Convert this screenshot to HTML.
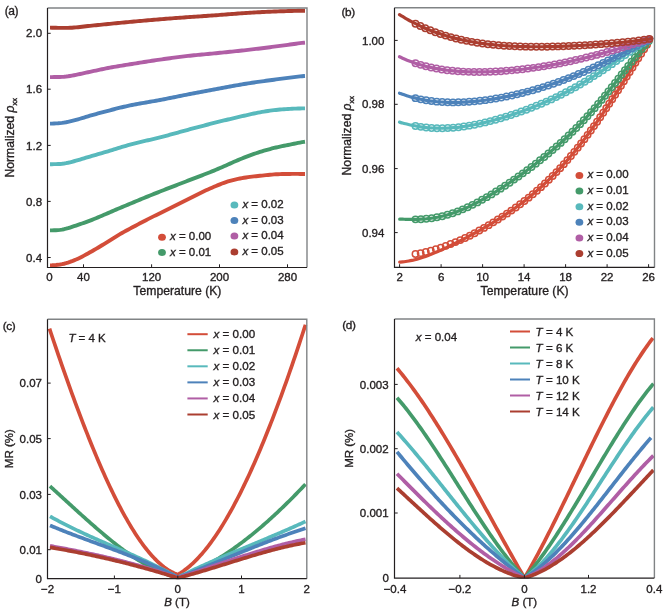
<!DOCTYPE html>
<html><head><meta charset="utf-8"><title>Figure</title>
<style>html,body{margin:0;padding:0;background:#fff;width:666px;height:611px;overflow:hidden}svg{display:block}text{stroke:#231f20;stroke-width:.35px}</style>
</head><body>
<svg width="666" height="611" viewBox="0 0 666 611" font-family='"Liberation Sans", Arial, sans-serif' fill="#231f20">
<rect width="666" height="611" fill="#fff"/>
<text x="4.80" y="15.40" font-size="12.00" text-anchor="start" letter-spacing="-0.5">(a)</text>
<text x="42.10" y="261.60" font-size="11.50" text-anchor="end">0.4</text>
<text x="42.10" y="205.50" font-size="11.50" text-anchor="end">0.8</text>
<text x="42.10" y="149.50" font-size="11.50" text-anchor="end">1.2</text>
<text x="42.10" y="93.30" font-size="11.50" text-anchor="end">1.6</text>
<text x="42.10" y="37.40" font-size="11.50" text-anchor="end">2.0</text>
<text x="49.50" y="281.30" font-size="11.50" text-anchor="middle">0</text>
<text x="83.50" y="281.30" font-size="11.50" text-anchor="middle">40</text>
<text x="151.60" y="281.30" font-size="11.50" text-anchor="middle">120</text>
<text x="219.50" y="281.30" font-size="11.50" text-anchor="middle">200</text>
<text x="287.50" y="281.30" font-size="11.50" text-anchor="middle">280</text>
<text x="177.40" y="295.30" font-size="12.20" text-anchor="middle">Temperature (K)</text>
<text transform="translate(14.4,137.8) rotate(-90)" font-size="12.20" text-anchor="middle">Normalized <tspan font-style="italic">ρ</tspan><tspan font-size="7.5" dy="2.5">xx</tspan></text>
<path d="M50.00,265.33 L52.00,265.27 L54.00,265.16 L56.00,265.01 L58.00,264.81 L60.00,264.53 L62.00,264.18 L64.00,263.74 L66.00,263.22 L68.00,262.60 L70.00,261.92 L72.00,261.19 L74.00,260.40 L76.00,259.56 L78.00,258.65 L80.00,257.69 L82.00,256.68 L84.00,255.63 L86.00,254.54 L88.00,253.44 L90.00,252.32 L92.00,251.19 L94.00,250.04 L96.00,248.88 L98.00,247.70 L100.00,246.50 L102.00,245.29 L104.00,244.06 L106.00,242.82 L108.00,241.57 L110.00,240.31 L112.00,239.05 L114.00,237.80 L116.00,236.57 L118.00,235.37 L120.00,234.19 L122.00,233.04 L124.00,231.91 L126.00,230.80 L128.00,229.71 L130.00,228.62 L132.00,227.55 L134.00,226.48 L136.00,225.41 L138.00,224.35 L140.00,223.29 L142.00,222.24 L144.00,221.20 L146.00,220.17 L148.00,219.14 L150.00,218.13 L152.00,217.12 L154.00,216.12 L156.00,215.13 L158.00,214.15 L160.00,213.17 L162.00,212.20 L164.00,211.23 L166.00,210.25 L168.00,209.27 L170.00,208.29 L172.00,207.30 L174.00,206.30 L176.00,205.30 L178.00,204.30 L180.00,203.30 L182.00,202.30 L184.00,201.30 L186.00,200.29 L188.00,199.29 L190.00,198.29 L192.00,197.28 L194.00,196.27 L196.00,195.26 L198.00,194.25 L200.00,193.25 L202.00,192.27 L204.00,191.30 L206.00,190.35 L208.00,189.44 L210.00,188.54 L212.00,187.66 L214.00,186.80 L216.00,185.96 L218.00,185.13 L220.00,184.33 L222.00,183.55 L224.00,182.82 L226.00,182.12 L228.00,181.47 L230.00,180.87 L232.00,180.32 L234.00,179.81 L236.00,179.34 L238.00,178.90 L240.00,178.49 L242.00,178.12 L244.00,177.77 L246.00,177.46 L248.00,177.17 L250.00,176.91 L252.00,176.66 L254.00,176.43 L256.00,176.22 L258.00,176.01 L260.00,175.80 L262.00,175.59 L264.00,175.37 L266.00,175.16 L268.00,174.95 L270.00,174.76 L272.00,174.58 L274.00,174.43 L276.00,174.31 L278.00,174.21 L280.00,174.13 L282.00,174.07 L284.00,174.02 L286.00,173.98 L288.00,173.95 L290.00,173.93 L292.00,173.92 L294.00,173.91 L296.00,173.92 L298.00,173.92 L300.00,173.94 L302.00,173.95 L304.00,173.97 L305.00,173.98" fill="none" stroke="#d34d39" stroke-width="3.9" stroke-linejoin="round"/>
<path d="M50.00,230.37 L52.00,230.34 L54.00,230.29 L56.00,230.21 L58.00,230.09 L60.00,229.89 L62.00,229.61 L64.00,229.22 L66.00,228.73 L68.00,228.15 L70.00,227.52 L72.00,226.86 L74.00,226.19 L76.00,225.53 L78.00,224.86 L80.00,224.18 L82.00,223.50 L84.00,222.79 L86.00,222.07 L88.00,221.34 L90.00,220.58 L92.00,219.81 L94.00,219.01 L96.00,218.20 L98.00,217.38 L100.00,216.54 L102.00,215.69 L104.00,214.83 L106.00,213.97 L108.00,213.10 L110.00,212.23 L112.00,211.37 L114.00,210.51 L116.00,209.66 L118.00,208.81 L120.00,207.97 L122.00,207.12 L124.00,206.28 L126.00,205.44 L128.00,204.60 L130.00,203.77 L132.00,202.93 L134.00,202.09 L136.00,201.26 L138.00,200.43 L140.00,199.60 L142.00,198.77 L144.00,197.95 L146.00,197.13 L148.00,196.32 L150.00,195.51 L152.00,194.71 L154.00,193.91 L156.00,193.11 L158.00,192.32 L160.00,191.54 L162.00,190.75 L164.00,189.97 L166.00,189.19 L168.00,188.42 L170.00,187.64 L172.00,186.87 L174.00,186.10 L176.00,185.33 L178.00,184.55 L180.00,183.78 L182.00,183.01 L184.00,182.24 L186.00,181.46 L188.00,180.69 L190.00,179.92 L192.00,179.15 L194.00,178.38 L196.00,177.61 L198.00,176.84 L200.00,176.08 L202.00,175.31 L204.00,174.54 L206.00,173.76 L208.00,172.98 L210.00,172.19 L212.00,171.39 L214.00,170.58 L216.00,169.75 L218.00,168.91 L220.00,168.05 L222.00,167.18 L224.00,166.30 L226.00,165.41 L228.00,164.51 L230.00,163.61 L232.00,162.72 L234.00,161.83 L236.00,160.96 L238.00,160.09 L240.00,159.25 L242.00,158.43 L244.00,157.62 L246.00,156.85 L248.00,156.09 L250.00,155.35 L252.00,154.64 L254.00,153.94 L256.00,153.26 L258.00,152.60 L260.00,151.96 L262.00,151.33 L264.00,150.73 L266.00,150.14 L268.00,149.57 L270.00,149.02 L272.00,148.48 L274.00,147.97 L276.00,147.49 L278.00,147.03 L280.00,146.59 L282.00,146.17 L284.00,145.76 L286.00,145.37 L288.00,144.98 L290.00,144.58 L292.00,144.18 L294.00,143.77 L296.00,143.36 L298.00,142.94 L300.00,142.54 L302.00,142.17 L304.00,141.87 L305.00,141.75" fill="none" stroke="#449a6a" stroke-width="3.9" stroke-linejoin="round"/>
<path d="M50.00,164.19 L52.00,164.18 L54.00,164.16 L56.00,164.13 L58.00,164.06 L60.00,163.95 L62.00,163.77 L64.00,163.51 L66.00,163.16 L68.00,162.75 L70.00,162.28 L72.00,161.77 L74.00,161.25 L76.00,160.70 L78.00,160.14 L80.00,159.56 L82.00,158.96 L84.00,158.35 L86.00,157.74 L88.00,157.13 L90.00,156.53 L92.00,155.93 L94.00,155.35 L96.00,154.76 L98.00,154.18 L100.00,153.61 L102.00,153.03 L104.00,152.45 L106.00,151.86 L108.00,151.27 L110.00,150.68 L112.00,150.08 L114.00,149.47 L116.00,148.85 L118.00,148.23 L120.00,147.60 L122.00,146.98 L124.00,146.37 L126.00,145.78 L128.00,145.20 L130.00,144.64 L132.00,144.11 L134.00,143.59 L136.00,143.08 L138.00,142.59 L140.00,142.11 L142.00,141.64 L144.00,141.18 L146.00,140.71 L148.00,140.25 L150.00,139.79 L152.00,139.32 L154.00,138.85 L156.00,138.37 L158.00,137.88 L160.00,137.38 L162.00,136.86 L164.00,136.34 L166.00,135.81 L168.00,135.27 L170.00,134.73 L172.00,134.18 L174.00,133.63 L176.00,133.07 L178.00,132.52 L180.00,131.96 L182.00,131.41 L184.00,130.86 L186.00,130.32 L188.00,129.78 L190.00,129.24 L192.00,128.70 L194.00,128.17 L196.00,127.64 L198.00,127.11 L200.00,126.58 L202.00,126.05 L204.00,125.53 L206.00,125.01 L208.00,124.49 L210.00,123.97 L212.00,123.46 L214.00,122.96 L216.00,122.46 L218.00,121.96 L220.00,121.46 L222.00,120.97 L224.00,120.48 L226.00,119.99 L228.00,119.51 L230.00,119.02 L232.00,118.55 L234.00,118.07 L236.00,117.60 L238.00,117.13 L240.00,116.67 L242.00,116.21 L244.00,115.75 L246.00,115.30 L248.00,114.85 L250.00,114.40 L252.00,113.95 L254.00,113.52 L256.00,113.09 L258.00,112.69 L260.00,112.30 L262.00,111.94 L264.00,111.60 L266.00,111.27 L268.00,110.97 L270.00,110.68 L272.00,110.41 L274.00,110.17 L276.00,109.95 L278.00,109.75 L280.00,109.56 L282.00,109.40 L284.00,109.25 L286.00,109.11 L288.00,108.98 L290.00,108.87 L292.00,108.77 L294.00,108.67 L296.00,108.59 L298.00,108.51 L300.00,108.45 L302.00,108.40 L304.00,108.36 L305.00,108.34" fill="none" stroke="#58b9bc" stroke-width="3.9" stroke-linejoin="round"/>
<path d="M50.00,123.65 L52.00,123.61 L54.00,123.53 L56.00,123.42 L58.00,123.28 L60.00,123.09 L62.00,122.86 L64.00,122.56 L66.00,122.22 L68.00,121.82 L70.00,121.38 L72.00,120.90 L74.00,120.41 L76.00,119.88 L78.00,119.33 L80.00,118.75 L82.00,118.16 L84.00,117.55 L86.00,116.93 L88.00,116.33 L90.00,115.74 L92.00,115.16 L94.00,114.59 L96.00,114.03 L98.00,113.48 L100.00,112.93 L102.00,112.38 L104.00,111.85 L106.00,111.31 L108.00,110.79 L110.00,110.27 L112.00,109.75 L114.00,109.24 L116.00,108.73 L118.00,108.23 L120.00,107.73 L122.00,107.24 L124.00,106.77 L126.00,106.31 L128.00,105.86 L130.00,105.44 L132.00,105.02 L134.00,104.63 L136.00,104.24 L138.00,103.87 L140.00,103.51 L142.00,103.15 L144.00,102.81 L146.00,102.46 L148.00,102.12 L150.00,101.77 L152.00,101.43 L154.00,101.08 L156.00,100.72 L158.00,100.35 L160.00,99.98 L162.00,99.60 L164.00,99.22 L166.00,98.82 L168.00,98.43 L170.00,98.03 L172.00,97.62 L174.00,97.22 L176.00,96.81 L178.00,96.40 L180.00,96.00 L182.00,95.59 L184.00,95.19 L186.00,94.80 L188.00,94.40 L190.00,94.01 L192.00,93.63 L194.00,93.24 L196.00,92.86 L198.00,92.48 L200.00,92.10 L202.00,91.72 L204.00,91.35 L206.00,90.97 L208.00,90.60 L210.00,90.23 L212.00,89.86 L214.00,89.48 L216.00,89.11 L218.00,88.74 L220.00,88.37 L222.00,87.99 L224.00,87.62 L226.00,87.24 L228.00,86.87 L230.00,86.50 L232.00,86.13 L234.00,85.77 L236.00,85.41 L238.00,85.06 L240.00,84.71 L242.00,84.37 L244.00,84.04 L246.00,83.72 L248.00,83.40 L250.00,83.09 L252.00,82.78 L254.00,82.49 L256.00,82.19 L258.00,81.90 L260.00,81.62 L262.00,81.34 L264.00,81.06 L266.00,80.78 L268.00,80.51 L270.00,80.24 L272.00,79.97 L274.00,79.70 L276.00,79.44 L278.00,79.17 L280.00,78.91 L282.00,78.65 L284.00,78.39 L286.00,78.13 L288.00,77.88 L290.00,77.62 L292.00,77.37 L294.00,77.13 L296.00,76.88 L298.00,76.65 L300.00,76.42 L302.00,76.22 L304.00,76.05 L305.00,75.99" fill="none" stroke="#4d82ba" stroke-width="3.9" stroke-linejoin="round"/>
<path d="M50.00,77.09 L52.00,77.08 L54.00,77.07 L56.00,77.05 L58.00,77.01 L60.00,76.96 L62.00,76.87 L64.00,76.73 L66.00,76.54 L68.00,76.30 L70.00,76.00 L72.00,75.66 L74.00,75.28 L76.00,74.86 L78.00,74.43 L80.00,73.98 L82.00,73.53 L84.00,73.09 L86.00,72.65 L88.00,72.22 L90.00,71.80 L92.00,71.38 L94.00,70.96 L96.00,70.54 L98.00,70.11 L100.00,69.67 L102.00,69.25 L104.00,68.82 L106.00,68.41 L108.00,68.01 L110.00,67.62 L112.00,67.25 L114.00,66.89 L116.00,66.55 L118.00,66.21 L120.00,65.89 L122.00,65.57 L124.00,65.25 L126.00,64.93 L128.00,64.61 L130.00,64.30 L132.00,63.98 L134.00,63.65 L136.00,63.33 L138.00,63.01 L140.00,62.69 L142.00,62.37 L144.00,62.05 L146.00,61.73 L148.00,61.42 L150.00,61.10 L152.00,60.80 L154.00,60.49 L156.00,60.19 L158.00,59.90 L160.00,59.61 L162.00,59.32 L164.00,59.04 L166.00,58.75 L168.00,58.48 L170.00,58.20 L172.00,57.93 L174.00,57.66 L176.00,57.39 L178.00,57.14 L180.00,56.88 L182.00,56.63 L184.00,56.39 L186.00,56.16 L188.00,55.93 L190.00,55.71 L192.00,55.49 L194.00,55.29 L196.00,55.09 L198.00,54.89 L200.00,54.70 L202.00,54.52 L204.00,54.33 L206.00,54.15 L208.00,53.96 L210.00,53.77 L212.00,53.58 L214.00,53.39 L216.00,53.20 L218.00,53.00 L220.00,52.80 L222.00,52.60 L224.00,52.40 L226.00,52.20 L228.00,52.00 L230.00,51.80 L232.00,51.59 L234.00,51.39 L236.00,51.18 L238.00,50.97 L240.00,50.75 L242.00,50.54 L244.00,50.32 L246.00,50.09 L248.00,49.87 L250.00,49.64 L252.00,49.41 L254.00,49.17 L256.00,48.93 L258.00,48.69 L260.00,48.45 L262.00,48.21 L264.00,47.96 L266.00,47.71 L268.00,47.45 L270.00,47.20 L272.00,46.94 L274.00,46.69 L276.00,46.43 L278.00,46.16 L280.00,45.90 L282.00,45.63 L284.00,45.36 L286.00,45.09 L288.00,44.82 L290.00,44.54 L292.00,44.26 L294.00,43.98 L296.00,43.70 L298.00,43.42 L300.00,43.15 L302.00,42.91 L304.00,42.71 L305.00,42.63" fill="none" stroke="#b05ea5" stroke-width="3.9" stroke-linejoin="round"/>
<path d="M50.00,27.66 L52.00,27.70 L54.00,27.74 L56.00,27.79 L58.00,27.83 L60.00,27.85 L62.00,27.87 L64.00,27.88 L66.00,27.87 L68.00,27.84 L70.00,27.78 L72.00,27.68 L74.00,27.55 L76.00,27.38 L78.00,27.19 L80.00,26.97 L82.00,26.74 L84.00,26.50 L86.00,26.27 L88.00,26.04 L90.00,25.82 L92.00,25.61 L94.00,25.41 L96.00,25.21 L98.00,25.02 L100.00,24.82 L102.00,24.62 L104.00,24.42 L106.00,24.22 L108.00,24.02 L110.00,23.82 L112.00,23.62 L114.00,23.43 L116.00,23.23 L118.00,23.04 L120.00,22.84 L122.00,22.65 L124.00,22.46 L126.00,22.27 L128.00,22.09 L130.00,21.90 L132.00,21.72 L134.00,21.54 L136.00,21.36 L138.00,21.18 L140.00,21.01 L142.00,20.83 L144.00,20.65 L146.00,20.48 L148.00,20.31 L150.00,20.14 L152.00,19.96 L154.00,19.80 L156.00,19.63 L158.00,19.46 L160.00,19.30 L162.00,19.13 L164.00,18.97 L166.00,18.81 L168.00,18.65 L170.00,18.49 L172.00,18.33 L174.00,18.18 L176.00,18.03 L178.00,17.88 L180.00,17.73 L182.00,17.59 L184.00,17.44 L186.00,17.30 L188.00,17.16 L190.00,17.02 L192.00,16.88 L194.00,16.75 L196.00,16.61 L198.00,16.48 L200.00,16.34 L202.00,16.20 L204.00,16.07 L206.00,15.93 L208.00,15.79 L210.00,15.65 L212.00,15.51 L214.00,15.37 L216.00,15.22 L218.00,15.07 L220.00,14.92 L222.00,14.77 L224.00,14.61 L226.00,14.46 L228.00,14.30 L230.00,14.15 L232.00,13.99 L234.00,13.84 L236.00,13.69 L238.00,13.55 L240.00,13.40 L242.00,13.27 L244.00,13.14 L246.00,13.01 L248.00,12.88 L250.00,12.76 L252.00,12.64 L254.00,12.52 L256.00,12.41 L258.00,12.29 L260.00,12.18 L262.00,12.07 L264.00,11.97 L266.00,11.87 L268.00,11.78 L270.00,11.68 L272.00,11.60 L274.00,11.52 L276.00,11.44 L278.00,11.37 L280.00,11.31 L282.00,11.24 L284.00,11.18 L286.00,11.12 L288.00,11.06 L290.00,11.01 L292.00,10.96 L294.00,10.91 L296.00,10.86 L298.00,10.82 L300.00,10.79 L302.00,10.76 L304.00,10.73 L305.00,10.72" fill="none" stroke="#ab3e30" stroke-width="3.9" stroke-linejoin="round"/>
<ellipse cx="162.00" cy="237.20" rx="3.9" ry="3.5" fill="#d34d39"/>
<text x="170.00" y="240.20" font-size="11.50"><tspan font-style="italic">x</tspan> = 0.00</text>
<ellipse cx="162.00" cy="252.50" rx="3.9" ry="3.5" fill="#449a6a"/>
<text x="170.00" y="255.50" font-size="11.50"><tspan font-style="italic">x</tspan> = 0.01</text>
<ellipse cx="234.40" cy="204.90" rx="3.9" ry="3.5" fill="#58b9bc"/>
<text x="242.40" y="207.90" font-size="11.50"><tspan font-style="italic">x</tspan> = 0.02</text>
<ellipse cx="234.40" cy="220.60" rx="3.9" ry="3.5" fill="#4d82ba"/>
<text x="242.40" y="223.60" font-size="11.50"><tspan font-style="italic">x</tspan> = 0.03</text>
<ellipse cx="234.40" cy="236.10" rx="3.9" ry="3.5" fill="#b05ea5"/>
<text x="242.40" y="239.10" font-size="11.50"><tspan font-style="italic">x</tspan> = 0.04</text>
<ellipse cx="234.40" cy="251.90" rx="3.9" ry="3.5" fill="#ab3e30"/>
<text x="242.40" y="254.90" font-size="11.50"><tspan font-style="italic">x</tspan> = 0.05</text>
<line x1="47.50" y1="257.50" x2="50.70" y2="257.50" stroke="#231f20" stroke-width="1"/>
<line x1="47.50" y1="201.40" x2="50.70" y2="201.40" stroke="#231f20" stroke-width="1"/>
<line x1="47.50" y1="145.40" x2="50.70" y2="145.40" stroke="#231f20" stroke-width="1"/>
<line x1="47.50" y1="89.20" x2="50.70" y2="89.20" stroke="#231f20" stroke-width="1"/>
<line x1="47.50" y1="33.30" x2="50.70" y2="33.30" stroke="#231f20" stroke-width="1"/>
<line x1="83.50" y1="267.50" x2="83.50" y2="264.30" stroke="#231f20" stroke-width="1"/>
<line x1="151.60" y1="267.50" x2="151.60" y2="264.30" stroke="#231f20" stroke-width="1"/>
<line x1="219.50" y1="267.50" x2="219.50" y2="264.30" stroke="#231f20" stroke-width="1"/>
<line x1="287.50" y1="267.50" x2="287.50" y2="264.30" stroke="#231f20" stroke-width="1"/>
<path d="M47.50,8.00 H307.00 V267.50" fill="none" stroke="#808385" stroke-width="1.4"/>
<path d="M47.50,8.00 V267.50 H307.00" fill="none" stroke="#231f20" stroke-width="1.2"/>
<text x="341.60" y="15.80" font-size="11.80" text-anchor="start" letter-spacing="-0.4">(b)</text>
<text x="384.40" y="44.50" font-size="11.50" text-anchor="end">1.00</text>
<text x="384.40" y="108.40" font-size="11.50" text-anchor="end">0.98</text>
<text x="384.40" y="172.70" font-size="11.50" text-anchor="end">0.96</text>
<text x="384.40" y="236.70" font-size="11.50" text-anchor="end">0.94</text>
<text x="399.60" y="281.30" font-size="11.50" text-anchor="middle">2</text>
<text x="441.10" y="281.30" font-size="11.50" text-anchor="middle">6</text>
<text x="482.60" y="281.30" font-size="11.50" text-anchor="middle">10</text>
<text x="524.10" y="281.30" font-size="11.50" text-anchor="middle">14</text>
<text x="565.60" y="281.30" font-size="11.50" text-anchor="middle">18</text>
<text x="607.10" y="281.30" font-size="11.50" text-anchor="middle">22</text>
<text x="648.60" y="281.30" font-size="11.50" text-anchor="middle">26</text>
<text x="524.60" y="295.30" font-size="12.20" text-anchor="middle">Temperature (K)</text>
<text transform="translate(351.4,135.7) rotate(-90)" font-size="12.20" text-anchor="middle">Normalized <tspan font-style="italic">ρ</tspan><tspan font-size="7.5" dy="2.5">xx</tspan></text>
<path d="M399.70,262.15 C400.20,262.11 401.71,262.02 402.71,261.92 C403.71,261.82 404.72,261.69 405.72,261.54 C406.72,261.40 407.73,261.23 408.73,261.04 C409.73,260.85 410.74,260.65 411.74,260.42 C412.74,260.20 413.74,259.95 414.75,259.69 C415.75,259.44 416.75,259.16 417.76,258.87 C418.76,258.58 419.76,258.28 420.77,257.96 C421.77,257.64 422.77,257.31 423.78,256.97 C424.78,256.62 425.78,256.27 426.79,255.90 C427.79,255.54 428.79,255.16 429.80,254.77 C430.80,254.39 431.80,253.99 432.81,253.58 C433.81,253.18 434.81,252.76 435.81,252.34 C436.82,251.92 437.82,251.49 438.82,251.05 C439.83,250.62 440.83,250.17 441.83,249.72 C442.84,249.27 443.84,248.81 444.84,248.35 C445.85,247.89 446.85,247.42 447.85,246.94 C448.86,246.47 449.86,245.99 450.86,245.50 C451.87,245.02 452.87,244.53 453.87,244.03 C454.88,243.54 455.88,243.04 456.88,242.53 C457.88,242.03 458.89,241.52 459.89,241.01 C460.89,240.49 461.90,239.98 462.90,239.46 C463.90,238.93 464.91,238.41 465.91,237.88 C466.91,237.35 467.92,236.82 468.92,236.28 C469.92,235.74 470.93,235.20 471.93,234.65 C472.93,234.11 473.94,233.56 474.94,233.01 C475.94,232.45 476.95,231.89 477.95,231.33 C478.95,230.77 479.95,230.20 480.96,229.63 C481.96,229.06 482.96,228.48 483.97,227.90 C484.97,227.32 485.97,226.73 486.98,226.14 C487.98,225.55 488.98,224.96 489.99,224.36 C490.99,223.75 491.99,223.15 493.00,222.54 C494.00,221.92 495.00,221.31 496.01,220.68 C497.01,220.06 498.01,219.43 499.02,218.79 C500.02,218.15 501.02,217.51 502.03,216.86 C503.03,216.21 504.03,215.55 505.03,214.89 C506.04,214.22 507.04,213.55 508.04,212.87 C509.05,212.19 510.05,211.50 511.05,210.81 C512.06,210.11 513.06,209.41 514.06,208.69 C515.07,207.98 516.07,207.26 517.07,206.53 C518.08,205.79 519.08,205.05 520.08,204.30 C521.09,203.55 522.09,202.80 523.09,202.03 C524.10,201.26 525.10,200.48 526.10,199.68 C527.10,198.89 528.11,198.09 529.11,197.28 C530.11,196.47 531.12,195.64 532.12,194.81 C533.12,193.97 534.13,193.13 535.13,192.27 C536.13,191.41 537.14,190.54 538.14,189.66 C539.14,188.77 540.15,187.88 541.15,186.97 C542.15,186.06 543.16,185.14 544.16,184.20 C545.16,183.27 546.17,182.32 547.17,181.36 C548.17,180.40 549.17,179.43 550.18,178.44 C551.18,177.45 552.18,176.45 553.19,175.43 C554.19,174.41 555.19,173.38 556.20,172.34 C557.20,171.30 558.20,170.24 559.21,169.16 C560.21,168.09 561.21,167.00 562.22,165.90 C563.22,164.80 564.22,163.68 565.23,162.55 C566.23,161.41 567.23,160.27 568.24,159.11 C569.24,157.94 570.24,156.77 571.25,155.58 C572.25,154.39 573.25,153.18 574.25,151.96 C575.26,150.74 576.26,149.50 577.26,148.25 C578.27,147.00 579.27,145.73 580.27,144.45 C581.28,143.17 582.28,141.88 583.28,140.57 C584.29,139.26 585.29,137.94 586.29,136.60 C587.30,135.27 588.30,133.92 589.30,132.55 C590.31,131.19 591.31,129.81 592.31,128.42 C593.32,127.03 594.32,125.62 595.32,124.20 C596.32,122.79 597.33,121.36 598.33,119.91 C599.33,118.47 600.34,117.02 601.34,115.55 C602.34,114.09 603.35,112.61 604.35,111.12 C605.35,109.64 606.36,108.14 607.36,106.63 C608.36,105.12 609.37,103.61 610.37,102.08 C611.37,100.55 612.38,99.02 613.38,97.47 C614.38,95.93 615.39,94.38 616.39,92.82 C617.39,91.27 618.39,89.70 619.40,88.13 C620.40,86.56 621.40,84.99 622.41,83.41 C623.41,81.83 624.41,80.24 625.42,78.66 C626.42,77.07 627.42,75.48 628.43,73.89 C629.43,72.30 630.43,70.71 631.44,69.12 C632.44,67.53 633.44,65.94 634.45,64.35 C635.45,62.77 636.45,61.18 637.46,59.60 C638.46,58.02 639.46,56.44 640.46,54.87 C641.47,53.30 642.47,51.73 643.47,50.17 C644.48,48.62 645.48,47.07 646.48,45.53 C647.49,43.99 648.66,42.21 649.49,40.95 C650.33,39.68 651.17,38.44 651.50,37.93" fill="none" stroke="#d34d39" stroke-width="3.20" stroke-linecap="round" stroke-linejoin="round"/>
<circle cx="415.50" cy="254.00" r="3.20" fill="none" stroke="#d34d39" stroke-width="1.50"/>
<circle cx="420.68" cy="253.11" r="3.20" fill="none" stroke="#d34d39" stroke-width="1.50"/>
<circle cx="425.80" cy="251.98" r="3.20" fill="none" stroke="#d34d39" stroke-width="1.50"/>
<circle cx="430.85" cy="250.66" r="3.20" fill="none" stroke="#d34d39" stroke-width="1.50"/>
<circle cx="435.86" cy="249.19" r="3.20" fill="none" stroke="#d34d39" stroke-width="1.50"/>
<circle cx="440.81" cy="247.58" r="3.20" fill="none" stroke="#d34d39" stroke-width="1.50"/>
<circle cx="445.73" cy="245.86" r="3.20" fill="none" stroke="#d34d39" stroke-width="1.50"/>
<circle cx="450.60" cy="244.03" r="3.20" fill="none" stroke="#d34d39" stroke-width="1.50"/>
<circle cx="455.45" cy="242.12" r="3.20" fill="none" stroke="#d34d39" stroke-width="1.50"/>
<circle cx="460.27" cy="240.12" r="3.20" fill="none" stroke="#d34d39" stroke-width="1.50"/>
<circle cx="465.07" cy="238.02" r="3.20" fill="none" stroke="#d34d39" stroke-width="1.50"/>
<circle cx="469.83" cy="235.78" r="3.20" fill="none" stroke="#d34d39" stroke-width="1.50"/>
<circle cx="474.57" cy="233.21" r="3.20" fill="none" stroke="#d34d39" stroke-width="1.50"/>
<circle cx="479.29" cy="230.57" r="3.20" fill="none" stroke="#d34d39" stroke-width="1.50"/>
<circle cx="483.98" cy="227.89" r="3.20" fill="none" stroke="#d34d39" stroke-width="1.50"/>
<circle cx="488.64" cy="225.16" r="3.20" fill="none" stroke="#d34d39" stroke-width="1.50"/>
<circle cx="493.26" cy="222.37" r="3.20" fill="none" stroke="#d34d39" stroke-width="1.50"/>
<circle cx="497.85" cy="219.53" r="3.20" fill="none" stroke="#d34d39" stroke-width="1.50"/>
<circle cx="502.40" cy="216.62" r="3.20" fill="none" stroke="#d34d39" stroke-width="1.50"/>
<circle cx="506.90" cy="213.64" r="3.20" fill="none" stroke="#d34d39" stroke-width="1.50"/>
<circle cx="511.36" cy="210.59" r="3.20" fill="none" stroke="#d34d39" stroke-width="1.50"/>
<circle cx="515.77" cy="207.47" r="3.20" fill="none" stroke="#d34d39" stroke-width="1.50"/>
<circle cx="520.12" cy="204.28" r="3.20" fill="none" stroke="#d34d39" stroke-width="1.50"/>
<circle cx="524.42" cy="201.00" r="3.20" fill="none" stroke="#d34d39" stroke-width="1.50"/>
<circle cx="528.65" cy="197.65" r="3.20" fill="none" stroke="#d34d39" stroke-width="1.50"/>
<circle cx="532.82" cy="194.22" r="3.20" fill="none" stroke="#d34d39" stroke-width="1.50"/>
<circle cx="536.93" cy="190.72" r="3.20" fill="none" stroke="#d34d39" stroke-width="1.50"/>
<circle cx="540.97" cy="187.13" r="3.20" fill="none" stroke="#d34d39" stroke-width="1.50"/>
<circle cx="544.94" cy="183.47" r="3.20" fill="none" stroke="#d34d39" stroke-width="1.50"/>
<circle cx="548.84" cy="179.74" r="3.20" fill="none" stroke="#d34d39" stroke-width="1.50"/>
<circle cx="552.68" cy="175.94" r="3.20" fill="none" stroke="#d34d39" stroke-width="1.50"/>
<circle cx="556.45" cy="172.08" r="3.20" fill="none" stroke="#d34d39" stroke-width="1.50"/>
<circle cx="560.15" cy="168.15" r="3.20" fill="none" stroke="#d34d39" stroke-width="1.50"/>
<circle cx="563.79" cy="164.16" r="3.20" fill="none" stroke="#d34d39" stroke-width="1.50"/>
<circle cx="567.37" cy="160.11" r="3.20" fill="none" stroke="#d34d39" stroke-width="1.50"/>
<circle cx="570.88" cy="156.01" r="3.20" fill="none" stroke="#d34d39" stroke-width="1.50"/>
<circle cx="574.33" cy="151.86" r="3.20" fill="none" stroke="#d34d39" stroke-width="1.50"/>
<circle cx="577.73" cy="147.66" r="3.20" fill="none" stroke="#d34d39" stroke-width="1.50"/>
<circle cx="581.08" cy="143.42" r="3.20" fill="none" stroke="#d34d39" stroke-width="1.50"/>
<circle cx="584.37" cy="139.15" r="3.20" fill="none" stroke="#d34d39" stroke-width="1.50"/>
<circle cx="587.62" cy="134.83" r="3.20" fill="none" stroke="#d34d39" stroke-width="1.50"/>
<circle cx="590.82" cy="130.48" r="3.20" fill="none" stroke="#d34d39" stroke-width="1.50"/>
<circle cx="593.97" cy="126.10" r="3.20" fill="none" stroke="#d34d39" stroke-width="1.50"/>
<circle cx="597.09" cy="121.69" r="3.20" fill="none" stroke="#d34d39" stroke-width="1.50"/>
<circle cx="600.17" cy="117.25" r="3.20" fill="none" stroke="#d34d39" stroke-width="1.50"/>
<circle cx="603.22" cy="112.80" r="3.20" fill="none" stroke="#d34d39" stroke-width="1.50"/>
<circle cx="606.24" cy="108.32" r="3.20" fill="none" stroke="#d34d39" stroke-width="1.50"/>
<circle cx="609.22" cy="103.82" r="3.20" fill="none" stroke="#d34d39" stroke-width="1.50"/>
<circle cx="612.19" cy="99.30" r="3.20" fill="none" stroke="#d34d39" stroke-width="1.50"/>
<circle cx="615.13" cy="94.78" r="3.20" fill="none" stroke="#d34d39" stroke-width="1.50"/>
<circle cx="618.05" cy="90.24" r="3.20" fill="none" stroke="#d34d39" stroke-width="1.50"/>
<circle cx="620.96" cy="85.68" r="3.20" fill="none" stroke="#d34d39" stroke-width="1.50"/>
<circle cx="623.85" cy="81.13" r="3.20" fill="none" stroke="#d34d39" stroke-width="1.50"/>
<circle cx="626.74" cy="76.56" r="3.20" fill="none" stroke="#d34d39" stroke-width="1.50"/>
<circle cx="629.62" cy="72.00" r="3.20" fill="none" stroke="#d34d39" stroke-width="1.50"/>
<circle cx="632.50" cy="67.43" r="3.20" fill="none" stroke="#d34d39" stroke-width="1.50"/>
<circle cx="635.39" cy="62.86" r="3.20" fill="none" stroke="#d34d39" stroke-width="1.50"/>
<circle cx="638.28" cy="58.30" r="3.20" fill="none" stroke="#d34d39" stroke-width="1.50"/>
<circle cx="641.18" cy="53.75" r="3.20" fill="none" stroke="#d34d39" stroke-width="1.50"/>
<circle cx="644.10" cy="49.21" r="3.20" fill="none" stroke="#d34d39" stroke-width="1.50"/>
<circle cx="647.04" cy="44.68" r="3.20" fill="none" stroke="#d34d39" stroke-width="1.50"/>
<path d="M399.70,219.15 C400.20,219.17 401.71,219.20 402.71,219.22 C403.71,219.24 404.72,219.27 405.72,219.29 C406.72,219.31 407.73,219.33 408.73,219.35 C409.73,219.36 410.74,219.37 411.74,219.38 C412.74,219.38 413.74,219.38 414.75,219.37 C415.75,219.36 416.75,219.34 417.76,219.31 C418.76,219.28 419.76,219.24 420.77,219.19 C421.77,219.15 422.77,219.09 423.78,219.01 C424.78,218.94 425.78,218.86 426.79,218.76 C427.79,218.66 428.79,218.56 429.80,218.43 C430.80,218.31 431.80,218.17 432.81,218.02 C433.81,217.87 434.81,217.71 435.81,217.53 C436.82,217.35 437.82,217.16 438.82,216.95 C439.83,216.75 440.83,216.53 441.83,216.29 C442.84,216.05 443.84,215.80 444.84,215.54 C445.85,215.28 446.85,215.00 447.85,214.70 C448.86,214.41 449.86,214.11 450.86,213.78 C451.87,213.46 452.87,213.13 453.87,212.78 C454.88,212.43 455.88,212.07 456.88,211.70 C457.88,211.32 458.89,210.93 459.89,210.53 C460.89,210.13 461.90,209.72 462.90,209.29 C463.90,208.87 464.91,208.43 465.91,207.98 C466.91,207.53 467.92,207.07 468.92,206.60 C469.92,206.13 470.93,205.65 471.93,205.15 C472.93,204.66 473.94,204.15 474.94,203.64 C475.94,203.13 476.95,202.60 477.95,202.07 C478.95,201.53 479.95,200.99 480.96,200.44 C481.96,199.89 482.96,199.33 483.97,198.76 C484.97,198.19 485.97,197.61 486.98,197.02 C487.98,196.44 488.98,195.84 489.99,195.24 C490.99,194.64 491.99,194.03 493.00,193.42 C494.00,192.80 495.00,192.18 496.01,191.55 C497.01,190.92 498.01,190.29 499.02,189.65 C500.02,189.01 501.02,188.36 502.03,187.70 C503.03,187.05 504.03,186.39 505.03,185.72 C506.04,185.06 507.04,184.39 508.04,183.71 C509.05,183.03 510.05,182.35 511.05,181.66 C512.06,180.98 513.06,180.28 514.06,179.59 C515.07,178.89 516.07,178.18 517.07,177.48 C518.08,176.77 519.08,176.05 520.08,175.34 C521.09,174.62 522.09,173.89 523.09,173.16 C524.10,172.43 525.10,171.70 526.10,170.96 C527.10,170.22 528.11,169.47 529.11,168.72 C530.11,167.97 531.12,167.22 532.12,166.45 C533.12,165.69 534.13,164.92 535.13,164.15 C536.13,163.37 537.14,162.59 538.14,161.81 C539.14,161.02 540.15,160.23 541.15,159.43 C542.15,158.63 543.16,157.82 544.16,157.01 C545.16,156.20 546.17,155.38 547.17,154.55 C548.17,153.72 549.17,152.88 550.18,152.04 C551.18,151.20 552.18,150.35 553.19,149.49 C554.19,148.63 555.19,147.76 556.20,146.88 C557.20,146.00 558.20,145.12 559.21,144.22 C560.21,143.33 561.21,142.42 562.22,141.51 C563.22,140.59 564.22,139.67 565.23,138.74 C566.23,137.80 567.23,136.86 568.24,135.90 C569.24,134.95 570.24,133.98 571.25,133.00 C572.25,132.03 573.25,131.04 574.25,130.04 C575.26,129.04 576.26,128.03 577.26,127.00 C578.27,125.98 579.27,124.95 580.27,123.90 C581.28,122.86 582.28,121.80 583.28,120.73 C584.29,119.66 585.29,118.57 586.29,117.48 C587.30,116.39 588.30,115.28 589.30,114.16 C590.31,113.04 591.31,111.91 592.31,110.77 C593.32,109.62 594.32,108.47 595.32,107.30 C596.32,106.14 597.33,104.96 598.33,103.77 C599.33,102.58 600.34,101.38 601.34,100.17 C602.34,98.95 603.35,97.73 604.35,96.50 C605.35,95.27 606.36,94.02 607.36,92.77 C608.36,91.52 609.37,90.26 610.37,88.99 C611.37,87.73 612.38,86.45 613.38,85.17 C614.38,83.89 615.39,82.60 616.39,81.30 C617.39,80.01 618.39,78.71 619.40,77.41 C620.40,76.11 621.40,74.80 622.41,73.50 C623.41,72.19 624.41,70.89 625.42,69.58 C626.42,68.28 627.42,66.98 628.43,65.68 C629.43,64.38 630.43,63.09 631.44,61.80 C632.44,60.52 633.44,59.24 634.45,57.97 C635.45,56.71 636.45,55.45 637.46,54.21 C638.46,52.97 639.46,51.74 640.46,50.53 C641.47,49.33 642.47,48.14 643.47,46.98 C644.48,45.82 645.48,44.67 646.48,43.56 C647.49,42.46 648.66,41.21 649.49,40.33 C650.33,39.45 651.17,38.63 651.50,38.28" fill="none" stroke="#449a6a" stroke-width="3.20" stroke-linecap="round" stroke-linejoin="round"/>
<circle cx="415.50" cy="219.36" r="3.20" fill="none" stroke="#449a6a" stroke-width="1.50"/>
<circle cx="420.90" cy="219.19" r="3.20" fill="none" stroke="#449a6a" stroke-width="1.50"/>
<circle cx="426.28" cy="218.81" r="3.20" fill="none" stroke="#449a6a" stroke-width="1.50"/>
<circle cx="431.65" cy="218.19" r="3.20" fill="none" stroke="#449a6a" stroke-width="1.50"/>
<circle cx="436.98" cy="217.32" r="3.20" fill="none" stroke="#449a6a" stroke-width="1.50"/>
<circle cx="442.26" cy="216.19" r="3.20" fill="none" stroke="#449a6a" stroke-width="1.50"/>
<circle cx="447.48" cy="214.81" r="3.20" fill="none" stroke="#449a6a" stroke-width="1.50"/>
<circle cx="452.63" cy="213.20" r="3.20" fill="none" stroke="#449a6a" stroke-width="1.50"/>
<circle cx="457.71" cy="211.38" r="3.20" fill="none" stroke="#449a6a" stroke-width="1.50"/>
<circle cx="462.72" cy="209.37" r="3.20" fill="none" stroke="#449a6a" stroke-width="1.50"/>
<circle cx="467.66" cy="207.19" r="3.20" fill="none" stroke="#449a6a" stroke-width="1.50"/>
<circle cx="472.53" cy="204.85" r="3.20" fill="none" stroke="#449a6a" stroke-width="1.50"/>
<circle cx="477.34" cy="202.39" r="3.20" fill="none" stroke="#449a6a" stroke-width="1.50"/>
<circle cx="482.09" cy="199.81" r="3.20" fill="none" stroke="#449a6a" stroke-width="1.50"/>
<circle cx="486.78" cy="197.14" r="3.20" fill="none" stroke="#449a6a" stroke-width="1.50"/>
<circle cx="491.42" cy="194.38" r="3.20" fill="none" stroke="#449a6a" stroke-width="1.50"/>
<circle cx="496.01" cy="191.55" r="3.20" fill="none" stroke="#449a6a" stroke-width="1.50"/>
<circle cx="500.57" cy="188.65" r="3.20" fill="none" stroke="#449a6a" stroke-width="1.50"/>
<circle cx="505.09" cy="185.69" r="3.20" fill="none" stroke="#449a6a" stroke-width="1.50"/>
<circle cx="509.57" cy="182.68" r="3.20" fill="none" stroke="#449a6a" stroke-width="1.50"/>
<circle cx="514.02" cy="179.62" r="3.20" fill="none" stroke="#449a6a" stroke-width="1.50"/>
<circle cx="518.44" cy="176.51" r="3.20" fill="none" stroke="#449a6a" stroke-width="1.50"/>
<circle cx="522.82" cy="173.36" r="3.20" fill="none" stroke="#449a6a" stroke-width="1.50"/>
<circle cx="527.17" cy="170.17" r="3.20" fill="none" stroke="#449a6a" stroke-width="1.50"/>
<circle cx="531.50" cy="166.93" r="3.20" fill="none" stroke="#449a6a" stroke-width="1.50"/>
<circle cx="535.78" cy="163.64" r="3.20" fill="none" stroke="#449a6a" stroke-width="1.50"/>
<circle cx="540.03" cy="160.31" r="3.20" fill="none" stroke="#449a6a" stroke-width="1.50"/>
<circle cx="544.25" cy="156.94" r="3.20" fill="none" stroke="#449a6a" stroke-width="1.50"/>
<circle cx="548.42" cy="153.51" r="3.20" fill="none" stroke="#449a6a" stroke-width="1.50"/>
<circle cx="552.55" cy="150.03" r="3.20" fill="none" stroke="#449a6a" stroke-width="1.50"/>
<circle cx="556.63" cy="146.50" r="3.20" fill="none" stroke="#449a6a" stroke-width="1.50"/>
<circle cx="560.67" cy="142.91" r="3.20" fill="none" stroke="#449a6a" stroke-width="1.50"/>
<circle cx="564.65" cy="139.27" r="3.20" fill="none" stroke="#449a6a" stroke-width="1.50"/>
<circle cx="568.59" cy="135.56" r="3.20" fill="none" stroke="#449a6a" stroke-width="1.50"/>
<circle cx="572.47" cy="131.81" r="3.20" fill="none" stroke="#449a6a" stroke-width="1.50"/>
<circle cx="576.29" cy="127.99" r="3.20" fill="none" stroke="#449a6a" stroke-width="1.50"/>
<circle cx="580.06" cy="124.13" r="3.20" fill="none" stroke="#449a6a" stroke-width="1.50"/>
<circle cx="583.77" cy="120.21" r="3.20" fill="none" stroke="#449a6a" stroke-width="1.50"/>
<circle cx="587.43" cy="116.23" r="3.20" fill="none" stroke="#449a6a" stroke-width="1.50"/>
<circle cx="591.04" cy="112.21" r="3.20" fill="none" stroke="#449a6a" stroke-width="1.50"/>
<circle cx="594.59" cy="108.15" r="3.20" fill="none" stroke="#449a6a" stroke-width="1.50"/>
<circle cx="598.10" cy="104.04" r="3.20" fill="none" stroke="#449a6a" stroke-width="1.50"/>
<circle cx="601.56" cy="99.90" r="3.20" fill="none" stroke="#449a6a" stroke-width="1.50"/>
<circle cx="604.98" cy="95.72" r="3.20" fill="none" stroke="#449a6a" stroke-width="1.50"/>
<circle cx="608.37" cy="91.52" r="3.20" fill="none" stroke="#449a6a" stroke-width="1.50"/>
<circle cx="611.72" cy="87.28" r="3.20" fill="none" stroke="#449a6a" stroke-width="1.50"/>
<circle cx="615.05" cy="83.03" r="3.20" fill="none" stroke="#449a6a" stroke-width="1.50"/>
<circle cx="618.36" cy="78.76" r="3.20" fill="none" stroke="#449a6a" stroke-width="1.50"/>
<circle cx="621.65" cy="74.48" r="3.20" fill="none" stroke="#449a6a" stroke-width="1.50"/>
<circle cx="624.94" cy="70.20" r="3.20" fill="none" stroke="#449a6a" stroke-width="1.50"/>
<circle cx="628.24" cy="65.92" r="3.20" fill="none" stroke="#449a6a" stroke-width="1.50"/>
<circle cx="631.55" cy="61.66" r="3.20" fill="none" stroke="#449a6a" stroke-width="1.50"/>
<circle cx="634.89" cy="57.41" r="3.20" fill="none" stroke="#449a6a" stroke-width="1.50"/>
<circle cx="638.27" cy="53.20" r="3.20" fill="none" stroke="#449a6a" stroke-width="1.50"/>
<circle cx="641.71" cy="49.05" r="3.20" fill="none" stroke="#449a6a" stroke-width="1.50"/>
<circle cx="645.24" cy="44.96" r="3.20" fill="none" stroke="#449a6a" stroke-width="1.50"/>
<circle cx="648.88" cy="40.97" r="3.20" fill="none" stroke="#449a6a" stroke-width="1.50"/>
<path d="M399.50,122.13 C400.00,122.27 401.50,122.71 402.50,122.98 C403.50,123.26 404.50,123.53 405.50,123.78 C406.50,124.04 407.50,124.28 408.50,124.52 C409.50,124.75 410.50,124.98 411.50,125.19 C412.50,125.40 413.50,125.60 414.50,125.80 C415.50,125.99 416.50,126.17 417.50,126.33 C418.50,126.50 419.50,126.66 420.50,126.81 C421.50,126.95 422.50,127.09 423.50,127.21 C424.50,127.33 425.50,127.44 426.50,127.54 C427.50,127.64 428.50,127.73 429.50,127.81 C430.50,127.89 431.50,127.96 432.50,128.01 C433.50,128.07 434.50,128.12 435.50,128.15 C436.50,128.19 437.50,128.21 438.50,128.22 C439.50,128.24 440.50,128.24 441.50,128.23 C442.50,128.23 443.50,128.21 444.50,128.18 C445.50,128.15 446.50,128.12 447.50,128.07 C448.50,128.02 449.50,127.97 450.50,127.90 C451.50,127.83 452.50,127.76 453.50,127.67 C454.50,127.59 455.50,127.50 456.50,127.39 C457.50,127.29 458.50,127.18 459.50,127.06 C460.50,126.94 461.50,126.82 462.50,126.68 C463.50,126.55 464.50,126.40 465.50,126.25 C466.50,126.10 467.50,125.94 468.50,125.78 C469.50,125.61 470.50,125.44 471.50,125.26 C472.50,125.08 473.50,124.89 474.50,124.70 C475.50,124.50 476.50,124.30 477.50,124.09 C478.50,123.89 479.50,123.67 480.50,123.45 C481.50,123.23 482.50,123.01 483.50,122.77 C484.50,122.54 485.50,122.30 486.50,122.06 C487.50,121.82 488.50,121.57 489.50,121.31 C490.50,121.06 491.50,120.80 492.50,120.53 C493.50,120.27 494.50,120.00 495.50,119.72 C496.50,119.45 497.50,119.16 498.50,118.88 C499.50,118.59 500.50,118.30 501.50,118.01 C502.50,117.71 503.50,117.41 504.50,117.10 C505.50,116.80 506.50,116.49 507.50,116.18 C508.50,115.86 509.50,115.54 510.50,115.22 C511.50,114.89 512.50,114.57 513.50,114.23 C514.50,113.90 515.50,113.56 516.50,113.22 C517.50,112.88 518.50,112.53 519.50,112.18 C520.50,111.83 521.50,111.47 522.50,111.11 C523.50,110.75 524.50,110.39 525.50,110.02 C526.50,109.65 527.50,109.28 528.50,108.90 C529.50,108.52 530.50,108.14 531.50,107.75 C532.50,107.36 533.50,106.97 534.50,106.57 C535.50,106.17 536.50,105.77 537.50,105.36 C538.50,104.95 539.50,104.54 540.50,104.12 C541.50,103.70 542.50,103.28 543.50,102.85 C544.50,102.42 545.50,101.98 546.50,101.54 C547.50,101.11 548.50,100.66 549.50,100.21 C550.50,99.76 551.50,99.30 552.50,98.84 C553.50,98.38 554.50,97.91 555.50,97.44 C556.50,96.96 557.50,96.48 558.50,96.00 C559.50,95.51 560.50,95.02 561.50,94.52 C562.50,94.02 563.50,93.52 564.50,93.01 C565.50,92.50 566.50,91.98 567.50,91.46 C568.50,90.93 569.50,90.40 570.50,89.87 C571.50,89.33 572.50,88.79 573.50,88.24 C574.50,87.69 575.50,87.13 576.50,86.57 C577.50,86.01 578.50,85.44 579.50,84.86 C580.50,84.29 581.50,83.71 582.50,83.12 C583.50,82.53 584.50,81.93 585.50,81.33 C586.50,80.73 587.50,80.12 588.50,79.51 C589.50,78.89 590.50,78.27 591.50,77.65 C592.50,77.02 593.50,76.39 594.50,75.75 C595.50,75.11 596.50,74.47 597.50,73.82 C598.50,73.17 599.50,72.52 600.50,71.86 C601.50,71.20 602.50,70.53 603.50,69.86 C604.50,69.20 605.50,68.52 606.50,67.84 C607.50,67.17 608.50,66.49 609.50,65.80 C610.50,65.12 611.50,64.43 612.50,63.74 C613.50,63.05 614.50,62.36 615.50,61.67 C616.50,60.97 617.50,60.28 618.50,59.58 C619.50,58.89 620.50,58.19 621.50,57.50 C622.50,56.81 623.50,56.11 624.50,55.42 C625.50,54.73 626.50,54.04 627.50,53.35 C628.50,52.67 629.50,51.98 630.50,51.31 C631.50,50.63 632.50,49.96 633.50,49.29 C634.50,48.63 635.50,47.97 636.50,47.32 C637.50,46.67 638.50,46.03 639.50,45.40 C640.50,44.77 641.50,44.15 642.50,43.55 C643.50,42.95 644.50,42.35 645.50,41.78 C646.50,41.20 647.50,40.64 648.50,40.10 C649.50,39.56 651.00,38.80 651.50,38.53 C652.00,38.27 651.50,38.53 651.50,38.53" fill="none" stroke="#58b9bc" stroke-width="3.20" stroke-linecap="round" stroke-linejoin="round"/>
<circle cx="415.50" cy="125.98" r="3.20" fill="none" stroke="#58b9bc" stroke-width="1.50"/>
<circle cx="420.83" cy="126.85" r="3.20" fill="none" stroke="#58b9bc" stroke-width="1.50"/>
<circle cx="426.19" cy="127.51" r="3.20" fill="none" stroke="#58b9bc" stroke-width="1.50"/>
<circle cx="431.57" cy="127.96" r="3.20" fill="none" stroke="#58b9bc" stroke-width="1.50"/>
<circle cx="436.96" cy="128.19" r="3.20" fill="none" stroke="#58b9bc" stroke-width="1.50"/>
<circle cx="442.36" cy="128.22" r="3.20" fill="none" stroke="#58b9bc" stroke-width="1.50"/>
<circle cx="447.76" cy="128.06" r="3.20" fill="none" stroke="#58b9bc" stroke-width="1.50"/>
<circle cx="453.15" cy="127.70" r="3.20" fill="none" stroke="#58b9bc" stroke-width="1.50"/>
<circle cx="458.52" cy="127.18" r="3.20" fill="none" stroke="#58b9bc" stroke-width="1.50"/>
<circle cx="463.88" cy="126.49" r="3.20" fill="none" stroke="#58b9bc" stroke-width="1.50"/>
<circle cx="469.21" cy="125.66" r="3.20" fill="none" stroke="#58b9bc" stroke-width="1.50"/>
<circle cx="474.53" cy="124.69" r="3.20" fill="none" stroke="#58b9bc" stroke-width="1.50"/>
<circle cx="479.82" cy="123.60" r="3.20" fill="none" stroke="#58b9bc" stroke-width="1.50"/>
<circle cx="485.08" cy="122.40" r="3.20" fill="none" stroke="#58b9bc" stroke-width="1.50"/>
<circle cx="490.32" cy="121.10" r="3.20" fill="none" stroke="#58b9bc" stroke-width="1.50"/>
<circle cx="495.54" cy="119.71" r="3.20" fill="none" stroke="#58b9bc" stroke-width="1.50"/>
<circle cx="500.73" cy="118.23" r="3.20" fill="none" stroke="#58b9bc" stroke-width="1.50"/>
<circle cx="505.90" cy="116.67" r="3.20" fill="none" stroke="#58b9bc" stroke-width="1.50"/>
<circle cx="511.05" cy="115.04" r="3.20" fill="none" stroke="#58b9bc" stroke-width="1.50"/>
<circle cx="516.17" cy="113.33" r="3.20" fill="none" stroke="#58b9bc" stroke-width="1.50"/>
<circle cx="521.27" cy="111.55" r="3.20" fill="none" stroke="#58b9bc" stroke-width="1.50"/>
<circle cx="526.35" cy="109.71" r="3.20" fill="none" stroke="#58b9bc" stroke-width="1.50"/>
<circle cx="531.39" cy="107.79" r="3.20" fill="none" stroke="#58b9bc" stroke-width="1.50"/>
<circle cx="536.41" cy="105.80" r="3.20" fill="none" stroke="#58b9bc" stroke-width="1.50"/>
<circle cx="541.40" cy="103.74" r="3.20" fill="none" stroke="#58b9bc" stroke-width="1.50"/>
<circle cx="546.37" cy="101.60" r="3.20" fill="none" stroke="#58b9bc" stroke-width="1.50"/>
<circle cx="551.29" cy="99.39" r="3.20" fill="none" stroke="#58b9bc" stroke-width="1.50"/>
<circle cx="556.19" cy="97.11" r="3.20" fill="none" stroke="#58b9bc" stroke-width="1.50"/>
<circle cx="561.04" cy="94.75" r="3.20" fill="none" stroke="#58b9bc" stroke-width="1.50"/>
<circle cx="565.86" cy="92.31" r="3.20" fill="none" stroke="#58b9bc" stroke-width="1.50"/>
<circle cx="570.64" cy="89.79" r="3.20" fill="none" stroke="#58b9bc" stroke-width="1.50"/>
<circle cx="575.37" cy="87.20" r="3.20" fill="none" stroke="#58b9bc" stroke-width="1.50"/>
<circle cx="580.07" cy="84.53" r="3.20" fill="none" stroke="#58b9bc" stroke-width="1.50"/>
<circle cx="584.72" cy="81.80" r="3.20" fill="none" stroke="#58b9bc" stroke-width="1.50"/>
<circle cx="589.34" cy="78.99" r="3.20" fill="none" stroke="#58b9bc" stroke-width="1.50"/>
<circle cx="593.91" cy="76.12" r="3.20" fill="none" stroke="#58b9bc" stroke-width="1.50"/>
<circle cx="598.45" cy="73.20" r="3.20" fill="none" stroke="#58b9bc" stroke-width="1.50"/>
<circle cx="602.96" cy="70.22" r="3.20" fill="none" stroke="#58b9bc" stroke-width="1.50"/>
<circle cx="607.44" cy="67.21" r="3.20" fill="none" stroke="#58b9bc" stroke-width="1.50"/>
<circle cx="611.90" cy="64.16" r="3.20" fill="none" stroke="#58b9bc" stroke-width="1.50"/>
<circle cx="616.34" cy="61.09" r="3.20" fill="none" stroke="#58b9bc" stroke-width="1.50"/>
<circle cx="620.77" cy="58.01" r="3.20" fill="none" stroke="#58b9bc" stroke-width="1.50"/>
<circle cx="625.21" cy="54.93" r="3.20" fill="none" stroke="#58b9bc" stroke-width="1.50"/>
<circle cx="629.66" cy="51.88" r="3.20" fill="none" stroke="#58b9bc" stroke-width="1.50"/>
<circle cx="634.15" cy="48.87" r="3.20" fill="none" stroke="#58b9bc" stroke-width="1.50"/>
<circle cx="638.68" cy="45.92" r="3.20" fill="none" stroke="#58b9bc" stroke-width="1.50"/>
<circle cx="643.27" cy="43.09" r="3.20" fill="none" stroke="#58b9bc" stroke-width="1.50"/>
<circle cx="647.95" cy="40.40" r="3.20" fill="none" stroke="#58b9bc" stroke-width="1.50"/>
<path d="M399.50,93.15 C400.00,93.33 401.50,93.91 402.50,94.27 C403.50,94.62 404.50,94.97 405.50,95.30 C406.50,95.63 407.50,95.94 408.50,96.25 C409.50,96.55 410.50,96.84 411.50,97.12 C412.50,97.39 413.50,97.66 414.50,97.91 C415.50,98.16 416.50,98.40 417.50,98.63 C418.50,98.85 419.50,99.07 420.50,99.27 C421.50,99.48 422.50,99.67 423.50,99.85 C424.50,100.03 425.50,100.20 426.50,100.36 C427.50,100.52 428.50,100.67 429.50,100.81 C430.50,100.95 431.50,101.08 432.50,101.19 C433.50,101.31 434.50,101.42 435.50,101.52 C436.50,101.62 437.50,101.71 438.50,101.79 C439.50,101.88 440.50,101.95 441.50,102.01 C442.50,102.07 443.50,102.13 444.50,102.18 C445.50,102.22 446.50,102.26 447.50,102.29 C448.50,102.32 449.50,102.34 450.50,102.36 C451.50,102.37 452.50,102.38 453.50,102.38 C454.50,102.38 455.50,102.37 456.50,102.35 C457.50,102.34 458.50,102.31 459.50,102.28 C460.50,102.26 461.50,102.22 462.50,102.18 C463.50,102.13 464.50,102.08 465.50,102.03 C466.50,101.97 467.50,101.91 468.50,101.84 C469.50,101.77 470.50,101.69 471.50,101.61 C472.50,101.53 473.50,101.45 474.50,101.35 C475.50,101.26 476.50,101.16 477.50,101.06 C478.50,100.95 479.50,100.84 480.50,100.73 C481.50,100.61 482.50,100.49 483.50,100.36 C484.50,100.24 485.50,100.11 486.50,99.97 C487.50,99.83 488.50,99.69 489.50,99.54 C490.50,99.39 491.50,99.24 492.50,99.08 C493.50,98.93 494.50,98.76 495.50,98.60 C496.50,98.43 497.50,98.26 498.50,98.08 C499.50,97.90 500.50,97.72 501.50,97.53 C502.50,97.35 503.50,97.16 504.50,96.96 C505.50,96.76 506.50,96.56 507.50,96.36 C508.50,96.15 509.50,95.94 510.50,95.73 C511.50,95.51 512.50,95.29 513.50,95.07 C514.50,94.84 515.50,94.61 516.50,94.38 C517.50,94.15 518.50,93.91 519.50,93.67 C520.50,93.43 521.50,93.18 522.50,92.93 C523.50,92.68 524.50,92.42 525.50,92.16 C526.50,91.90 527.50,91.64 528.50,91.37 C529.50,91.10 530.50,90.82 531.50,90.54 C532.50,90.27 533.50,89.98 534.50,89.70 C535.50,89.41 536.50,89.12 537.50,88.82 C538.50,88.52 539.50,88.22 540.50,87.92 C541.50,87.61 542.50,87.30 543.50,86.99 C544.50,86.67 545.50,86.35 546.50,86.03 C547.50,85.70 548.50,85.38 549.50,85.04 C550.50,84.71 551.50,84.37 552.50,84.03 C553.50,83.69 554.50,83.34 555.50,82.99 C556.50,82.64 557.50,82.28 558.50,81.92 C559.50,81.56 560.50,81.20 561.50,80.83 C562.50,80.46 563.50,80.08 564.50,79.70 C565.50,79.33 566.50,78.94 567.50,78.55 C568.50,78.17 569.50,77.77 570.50,77.38 C571.50,76.98 572.50,76.58 573.50,76.17 C574.50,75.77 575.50,75.36 576.50,74.94 C577.50,74.53 578.50,74.11 579.50,73.68 C580.50,73.26 581.50,72.83 582.50,72.40 C583.50,71.97 584.50,71.53 585.50,71.09 C586.50,70.65 587.50,70.20 588.50,69.75 C589.50,69.30 590.50,68.85 591.50,68.39 C592.50,67.94 593.50,67.48 594.50,67.01 C595.50,66.55 596.50,66.08 597.50,65.61 C598.50,65.13 599.50,64.66 600.50,64.18 C601.50,63.70 602.50,63.22 603.50,62.73 C604.50,62.25 605.50,61.76 606.50,61.27 C607.50,60.78 608.50,60.28 609.50,59.78 C610.50,59.29 611.50,58.79 612.50,58.28 C613.50,57.78 614.50,57.28 615.50,56.77 C616.50,56.27 617.50,55.76 618.50,55.25 C619.50,54.74 620.50,54.23 621.50,53.71 C622.50,53.20 623.50,52.69 624.50,52.17 C625.50,51.66 626.50,51.14 627.50,50.63 C628.50,50.11 629.50,49.60 630.50,49.08 C631.50,48.57 632.50,48.05 633.50,47.54 C634.50,47.02 635.50,46.51 636.50,46.00 C637.50,45.48 638.50,44.97 639.50,44.47 C640.50,43.96 641.50,43.45 642.50,42.95 C643.50,42.45 644.50,41.94 645.50,41.45 C646.50,40.95 647.50,40.46 648.50,39.97 C649.50,39.48 651.00,38.76 651.50,38.52 C652.00,38.28 651.50,38.52 651.50,38.52" fill="none" stroke="#4d82ba" stroke-width="3.20" stroke-linecap="round" stroke-linejoin="round"/>
<circle cx="415.50" cy="98.16" r="3.20" fill="none" stroke="#4d82ba" stroke-width="1.50"/>
<circle cx="420.77" cy="99.33" r="3.20" fill="none" stroke="#4d82ba" stroke-width="1.50"/>
<circle cx="426.08" cy="100.29" r="3.20" fill="none" stroke="#4d82ba" stroke-width="1.50"/>
<circle cx="431.43" cy="101.06" r="3.20" fill="none" stroke="#4d82ba" stroke-width="1.50"/>
<circle cx="436.80" cy="101.65" r="3.20" fill="none" stroke="#4d82ba" stroke-width="1.50"/>
<circle cx="442.18" cy="102.05" r="3.20" fill="none" stroke="#4d82ba" stroke-width="1.50"/>
<circle cx="447.58" cy="102.29" r="3.20" fill="none" stroke="#4d82ba" stroke-width="1.50"/>
<circle cx="452.97" cy="102.38" r="3.20" fill="none" stroke="#4d82ba" stroke-width="1.50"/>
<circle cx="458.37" cy="102.31" r="3.20" fill="none" stroke="#4d82ba" stroke-width="1.50"/>
<circle cx="463.77" cy="102.12" r="3.20" fill="none" stroke="#4d82ba" stroke-width="1.50"/>
<circle cx="469.16" cy="101.79" r="3.20" fill="none" stroke="#4d82ba" stroke-width="1.50"/>
<circle cx="474.54" cy="101.35" r="3.20" fill="none" stroke="#4d82ba" stroke-width="1.50"/>
<circle cx="479.91" cy="100.79" r="3.20" fill="none" stroke="#4d82ba" stroke-width="1.50"/>
<circle cx="485.27" cy="100.13" r="3.20" fill="none" stroke="#4d82ba" stroke-width="1.50"/>
<circle cx="490.62" cy="99.37" r="3.20" fill="none" stroke="#4d82ba" stroke-width="1.50"/>
<circle cx="495.95" cy="98.52" r="3.20" fill="none" stroke="#4d82ba" stroke-width="1.50"/>
<circle cx="501.27" cy="97.58" r="3.20" fill="none" stroke="#4d82ba" stroke-width="1.50"/>
<circle cx="506.57" cy="96.55" r="3.20" fill="none" stroke="#4d82ba" stroke-width="1.50"/>
<circle cx="511.85" cy="95.43" r="3.20" fill="none" stroke="#4d82ba" stroke-width="1.50"/>
<circle cx="517.12" cy="94.24" r="3.20" fill="none" stroke="#4d82ba" stroke-width="1.50"/>
<circle cx="522.37" cy="92.96" r="3.20" fill="none" stroke="#4d82ba" stroke-width="1.50"/>
<circle cx="527.59" cy="91.61" r="3.20" fill="none" stroke="#4d82ba" stroke-width="1.50"/>
<circle cx="532.80" cy="90.18" r="3.20" fill="none" stroke="#4d82ba" stroke-width="1.50"/>
<circle cx="537.99" cy="88.68" r="3.20" fill="none" stroke="#4d82ba" stroke-width="1.50"/>
<circle cx="543.15" cy="87.10" r="3.20" fill="none" stroke="#4d82ba" stroke-width="1.50"/>
<circle cx="548.29" cy="85.44" r="3.20" fill="none" stroke="#4d82ba" stroke-width="1.50"/>
<circle cx="553.41" cy="83.72" r="3.20" fill="none" stroke="#4d82ba" stroke-width="1.50"/>
<circle cx="558.50" cy="81.92" r="3.20" fill="none" stroke="#4d82ba" stroke-width="1.50"/>
<circle cx="563.57" cy="80.06" r="3.20" fill="none" stroke="#4d82ba" stroke-width="1.50"/>
<circle cx="568.61" cy="78.12" r="3.20" fill="none" stroke="#4d82ba" stroke-width="1.50"/>
<circle cx="573.63" cy="76.12" r="3.20" fill="none" stroke="#4d82ba" stroke-width="1.50"/>
<circle cx="578.61" cy="74.06" r="3.20" fill="none" stroke="#4d82ba" stroke-width="1.50"/>
<circle cx="583.58" cy="71.93" r="3.20" fill="none" stroke="#4d82ba" stroke-width="1.50"/>
<circle cx="588.52" cy="69.75" r="3.20" fill="none" stroke="#4d82ba" stroke-width="1.50"/>
<circle cx="593.43" cy="67.51" r="3.20" fill="none" stroke="#4d82ba" stroke-width="1.50"/>
<circle cx="598.32" cy="65.22" r="3.20" fill="none" stroke="#4d82ba" stroke-width="1.50"/>
<circle cx="603.19" cy="62.88" r="3.20" fill="none" stroke="#4d82ba" stroke-width="1.50"/>
<circle cx="608.04" cy="60.51" r="3.20" fill="none" stroke="#4d82ba" stroke-width="1.50"/>
<circle cx="612.87" cy="58.10" r="3.20" fill="none" stroke="#4d82ba" stroke-width="1.50"/>
<circle cx="617.69" cy="55.66" r="3.20" fill="none" stroke="#4d82ba" stroke-width="1.50"/>
<circle cx="622.50" cy="53.20" r="3.20" fill="none" stroke="#4d82ba" stroke-width="1.50"/>
<circle cx="627.30" cy="50.73" r="3.20" fill="none" stroke="#4d82ba" stroke-width="1.50"/>
<circle cx="632.10" cy="48.26" r="3.20" fill="none" stroke="#4d82ba" stroke-width="1.50"/>
<circle cx="636.90" cy="45.79" r="3.20" fill="none" stroke="#4d82ba" stroke-width="1.50"/>
<circle cx="641.72" cy="43.34" r="3.20" fill="none" stroke="#4d82ba" stroke-width="1.50"/>
<circle cx="646.55" cy="40.93" r="3.20" fill="none" stroke="#4d82ba" stroke-width="1.50"/>
<path d="M399.50,56.76 C400.00,57.00 401.50,57.72 402.50,58.17 C403.50,58.63 404.50,59.06 405.50,59.49 C406.50,59.91 407.50,60.32 408.50,60.71 C409.50,61.11 410.50,61.49 411.50,61.86 C412.50,62.22 413.50,62.58 414.50,62.92 C415.50,63.26 416.50,63.59 417.50,63.91 C418.50,64.22 419.50,64.53 420.50,64.82 C421.50,65.11 422.50,65.39 423.50,65.66 C424.50,65.93 425.50,66.19 426.50,66.44 C427.50,66.69 428.50,66.93 429.50,67.15 C430.50,67.38 431.50,67.60 432.50,67.81 C433.50,68.01 434.50,68.21 435.50,68.40 C436.50,68.59 437.50,68.77 438.50,68.94 C439.50,69.11 440.50,69.28 441.50,69.43 C442.50,69.59 443.50,69.73 444.50,69.87 C445.50,70.01 446.50,70.14 447.50,70.26 C448.50,70.38 449.50,70.50 450.50,70.61 C451.50,70.71 452.50,70.81 453.50,70.91 C454.50,71.00 455.50,71.09 456.50,71.17 C457.50,71.25 458.50,71.32 459.50,71.39 C460.50,71.46 461.50,71.52 462.50,71.57 C463.50,71.63 464.50,71.68 465.50,71.72 C466.50,71.77 467.50,71.80 468.50,71.83 C469.50,71.87 470.50,71.89 471.50,71.91 C472.50,71.94 473.50,71.95 474.50,71.96 C475.50,71.97 476.50,71.98 477.50,71.98 C478.50,71.98 479.50,71.98 480.50,71.97 C481.50,71.96 482.50,71.95 483.50,71.93 C484.50,71.91 485.50,71.89 486.50,71.86 C487.50,71.84 488.50,71.81 489.50,71.77 C490.50,71.74 491.50,71.70 492.50,71.65 C493.50,71.61 494.50,71.56 495.50,71.51 C496.50,71.46 497.50,71.40 498.50,71.34 C499.50,71.28 500.50,71.22 501.50,71.15 C502.50,71.09 503.50,71.02 504.50,70.94 C505.50,70.87 506.50,70.79 507.50,70.71 C508.50,70.62 509.50,70.54 510.50,70.45 C511.50,70.36 512.50,70.27 513.50,70.17 C514.50,70.08 515.50,69.98 516.50,69.88 C517.50,69.77 518.50,69.67 519.50,69.56 C520.50,69.45 521.50,69.34 522.50,69.22 C523.50,69.10 524.50,68.98 525.50,68.86 C526.50,68.74 527.50,68.61 528.50,68.48 C529.50,68.35 530.50,68.22 531.50,68.09 C532.50,67.95 533.50,67.81 534.50,67.67 C535.50,67.53 536.50,67.38 537.50,67.23 C538.50,67.09 539.50,66.94 540.50,66.78 C541.50,66.63 542.50,66.47 543.50,66.31 C544.50,66.15 545.50,65.98 546.50,65.82 C547.50,65.65 548.50,65.48 549.50,65.30 C550.50,65.13 551.50,64.95 552.50,64.78 C553.50,64.60 554.50,64.41 555.50,64.23 C556.50,64.04 557.50,63.85 558.50,63.66 C559.50,63.47 560.50,63.27 561.50,63.08 C562.50,62.88 563.50,62.68 564.50,62.47 C565.50,62.27 566.50,62.06 567.50,61.85 C568.50,61.64 569.50,61.43 570.50,61.21 C571.50,61.00 572.50,60.78 573.50,60.56 C574.50,60.33 575.50,60.11 576.50,59.88 C577.50,59.65 578.50,59.42 579.50,59.19 C580.50,58.95 581.50,58.72 582.50,58.48 C583.50,58.24 584.50,58.00 585.50,57.75 C586.50,57.50 587.50,57.26 588.50,57.01 C589.50,56.75 590.50,56.50 591.50,56.24 C592.50,55.99 593.50,55.73 594.50,55.47 C595.50,55.20 596.50,54.94 597.50,54.67 C598.50,54.41 599.50,54.14 600.50,53.86 C601.50,53.59 602.50,53.32 603.50,53.04 C604.50,52.76 605.50,52.48 606.50,52.20 C607.50,51.92 608.50,51.64 609.50,51.35 C610.50,51.06 611.50,50.77 612.50,50.48 C613.50,50.19 614.50,49.90 615.50,49.61 C616.50,49.31 617.50,49.02 618.50,48.72 C619.50,48.42 620.50,48.12 621.50,47.82 C622.50,47.52 623.50,47.21 624.50,46.91 C625.50,46.60 626.50,46.30 627.50,45.99 C628.50,45.68 629.50,45.38 630.50,45.07 C631.50,44.76 632.50,44.45 633.50,44.14 C634.50,43.82 635.50,43.51 636.50,43.20 C637.50,42.89 638.50,42.57 639.50,42.26 C640.50,41.95 641.50,41.63 642.50,41.32 C643.50,41.01 644.50,40.69 645.50,40.38 C646.50,40.06 647.50,39.75 648.50,39.44 C649.50,39.13 651.00,38.66 651.50,38.50 C652.00,38.35 651.50,38.50 651.50,38.50" fill="none" stroke="#b05ea5" stroke-width="3.20" stroke-linecap="round" stroke-linejoin="round"/>
<circle cx="415.50" cy="63.26" r="3.20" fill="none" stroke="#b05ea5" stroke-width="1.50"/>
<circle cx="420.65" cy="64.86" r="3.20" fill="none" stroke="#b05ea5" stroke-width="1.50"/>
<circle cx="425.87" cy="66.28" r="3.20" fill="none" stroke="#b05ea5" stroke-width="1.50"/>
<circle cx="431.12" cy="67.51" r="3.20" fill="none" stroke="#b05ea5" stroke-width="1.50"/>
<circle cx="436.42" cy="68.57" r="3.20" fill="none" stroke="#b05ea5" stroke-width="1.50"/>
<circle cx="441.74" cy="69.47" r="3.20" fill="none" stroke="#b05ea5" stroke-width="1.50"/>
<circle cx="447.09" cy="70.21" r="3.20" fill="none" stroke="#b05ea5" stroke-width="1.50"/>
<circle cx="452.46" cy="70.81" r="3.20" fill="none" stroke="#b05ea5" stroke-width="1.50"/>
<circle cx="457.84" cy="71.27" r="3.20" fill="none" stroke="#b05ea5" stroke-width="1.50"/>
<circle cx="463.23" cy="71.61" r="3.20" fill="none" stroke="#b05ea5" stroke-width="1.50"/>
<circle cx="468.62" cy="71.84" r="3.20" fill="none" stroke="#b05ea5" stroke-width="1.50"/>
<circle cx="474.02" cy="71.96" r="3.20" fill="none" stroke="#b05ea5" stroke-width="1.50"/>
<circle cx="479.42" cy="71.98" r="3.20" fill="none" stroke="#b05ea5" stroke-width="1.50"/>
<circle cx="484.82" cy="71.90" r="3.20" fill="none" stroke="#b05ea5" stroke-width="1.50"/>
<circle cx="490.22" cy="71.74" r="3.20" fill="none" stroke="#b05ea5" stroke-width="1.50"/>
<circle cx="495.61" cy="71.50" r="3.20" fill="none" stroke="#b05ea5" stroke-width="1.50"/>
<circle cx="501.00" cy="71.19" r="3.20" fill="none" stroke="#b05ea5" stroke-width="1.50"/>
<circle cx="506.39" cy="70.80" r="3.20" fill="none" stroke="#b05ea5" stroke-width="1.50"/>
<circle cx="511.77" cy="70.34" r="3.20" fill="none" stroke="#b05ea5" stroke-width="1.50"/>
<circle cx="517.14" cy="69.81" r="3.20" fill="none" stroke="#b05ea5" stroke-width="1.50"/>
<circle cx="522.51" cy="69.22" r="3.20" fill="none" stroke="#b05ea5" stroke-width="1.50"/>
<circle cx="527.87" cy="68.56" r="3.20" fill="none" stroke="#b05ea5" stroke-width="1.50"/>
<circle cx="533.22" cy="67.85" r="3.20" fill="none" stroke="#b05ea5" stroke-width="1.50"/>
<circle cx="538.57" cy="67.08" r="3.20" fill="none" stroke="#b05ea5" stroke-width="1.50"/>
<circle cx="543.90" cy="66.24" r="3.20" fill="none" stroke="#b05ea5" stroke-width="1.50"/>
<circle cx="549.23" cy="65.35" r="3.20" fill="none" stroke="#b05ea5" stroke-width="1.50"/>
<circle cx="554.55" cy="64.40" r="3.20" fill="none" stroke="#b05ea5" stroke-width="1.50"/>
<circle cx="559.85" cy="63.40" r="3.20" fill="none" stroke="#b05ea5" stroke-width="1.50"/>
<circle cx="565.15" cy="62.34" r="3.20" fill="none" stroke="#b05ea5" stroke-width="1.50"/>
<circle cx="570.43" cy="61.23" r="3.20" fill="none" stroke="#b05ea5" stroke-width="1.50"/>
<circle cx="575.70" cy="60.06" r="3.20" fill="none" stroke="#b05ea5" stroke-width="1.50"/>
<circle cx="580.96" cy="58.84" r="3.20" fill="none" stroke="#b05ea5" stroke-width="1.50"/>
<circle cx="586.21" cy="57.57" r="3.20" fill="none" stroke="#b05ea5" stroke-width="1.50"/>
<circle cx="591.45" cy="56.26" r="3.20" fill="none" stroke="#b05ea5" stroke-width="1.50"/>
<circle cx="596.67" cy="54.89" r="3.20" fill="none" stroke="#b05ea5" stroke-width="1.50"/>
<circle cx="601.89" cy="53.48" r="3.20" fill="none" stroke="#b05ea5" stroke-width="1.50"/>
<circle cx="607.09" cy="52.04" r="3.20" fill="none" stroke="#b05ea5" stroke-width="1.50"/>
<circle cx="612.28" cy="50.55" r="3.20" fill="none" stroke="#b05ea5" stroke-width="1.50"/>
<circle cx="617.46" cy="49.03" r="3.20" fill="none" stroke="#b05ea5" stroke-width="1.50"/>
<circle cx="622.63" cy="47.48" r="3.20" fill="none" stroke="#b05ea5" stroke-width="1.50"/>
<circle cx="627.80" cy="45.90" r="3.20" fill="none" stroke="#b05ea5" stroke-width="1.50"/>
<circle cx="632.96" cy="44.30" r="3.20" fill="none" stroke="#b05ea5" stroke-width="1.50"/>
<circle cx="638.11" cy="42.69" r="3.20" fill="none" stroke="#b05ea5" stroke-width="1.50"/>
<circle cx="643.26" cy="41.08" r="3.20" fill="none" stroke="#b05ea5" stroke-width="1.50"/>
<circle cx="648.42" cy="39.46" r="3.20" fill="none" stroke="#b05ea5" stroke-width="1.50"/>
<path d="M399.50,14.60 C400.00,14.91 401.50,15.86 402.50,16.48 C403.50,17.09 404.50,17.69 405.50,18.27 C406.50,18.86 407.50,19.43 408.50,19.99 C409.50,20.55 410.50,21.09 411.50,21.63 C412.50,22.16 413.50,22.68 414.50,23.19 C415.50,23.70 416.50,24.20 417.50,24.68 C418.50,25.17 419.50,25.64 420.50,26.11 C421.50,26.57 422.50,27.02 423.50,27.46 C424.50,27.91 425.50,28.34 426.50,28.76 C427.50,29.18 428.50,29.59 429.50,29.99 C430.50,30.39 431.50,30.78 432.50,31.16 C433.50,31.54 434.50,31.91 435.50,32.27 C436.50,32.63 437.50,32.99 438.50,33.33 C439.50,33.67 440.50,34.01 441.50,34.33 C442.50,34.66 443.50,34.97 444.50,35.28 C445.50,35.59 446.50,35.89 447.50,36.18 C448.50,36.48 449.50,36.76 450.50,37.04 C451.50,37.31 452.50,37.58 453.50,37.84 C454.50,38.10 455.50,38.35 456.50,38.60 C457.50,38.85 458.50,39.09 459.50,39.32 C460.50,39.55 461.50,39.77 462.50,39.99 C463.50,40.21 464.50,40.42 465.50,40.62 C466.50,40.83 467.50,41.03 468.50,41.22 C469.50,41.41 470.50,41.59 471.50,41.77 C472.50,41.95 473.50,42.13 474.50,42.29 C475.50,42.46 476.50,42.62 477.50,42.78 C478.50,42.93 479.50,43.08 480.50,43.23 C481.50,43.37 482.50,43.51 483.50,43.64 C484.50,43.78 485.50,43.91 486.50,44.03 C487.50,44.15 488.50,44.27 489.50,44.38 C490.50,44.50 491.50,44.61 492.50,44.71 C493.50,44.81 494.50,44.91 495.50,45.01 C496.50,45.10 497.50,45.19 498.50,45.28 C499.50,45.36 500.50,45.45 501.50,45.52 C502.50,45.60 503.50,45.67 504.50,45.74 C505.50,45.81 506.50,45.88 507.50,45.94 C508.50,46.00 509.50,46.06 510.50,46.11 C511.50,46.16 512.50,46.21 513.50,46.26 C514.50,46.31 515.50,46.35 516.50,46.39 C517.50,46.43 518.50,46.46 519.50,46.50 C520.50,46.53 521.50,46.56 522.50,46.58 C523.50,46.61 524.50,46.63 525.50,46.65 C526.50,46.68 527.50,46.69 528.50,46.71 C529.50,46.72 530.50,46.73 531.50,46.74 C532.50,46.75 533.50,46.76 534.50,46.76 C535.50,46.76 536.50,46.77 537.50,46.76 C538.50,46.76 539.50,46.76 540.50,46.75 C541.50,46.75 542.50,46.74 543.50,46.73 C544.50,46.72 545.50,46.70 546.50,46.69 C547.50,46.67 548.50,46.66 549.50,46.64 C550.50,46.62 551.50,46.60 552.50,46.57 C553.50,46.55 554.50,46.52 555.50,46.50 C556.50,46.47 557.50,46.44 558.50,46.41 C559.50,46.38 560.50,46.35 561.50,46.31 C562.50,46.28 563.50,46.24 564.50,46.20 C565.50,46.16 566.50,46.13 567.50,46.08 C568.50,46.04 569.50,46.00 570.50,45.96 C571.50,45.91 572.50,45.87 573.50,45.82 C574.50,45.77 575.50,45.72 576.50,45.67 C577.50,45.62 578.50,45.57 579.50,45.52 C580.50,45.47 581.50,45.41 582.50,45.35 C583.50,45.30 584.50,45.24 585.50,45.18 C586.50,45.12 587.50,45.06 588.50,45.00 C589.50,44.94 590.50,44.88 591.50,44.81 C592.50,44.75 593.50,44.68 594.50,44.62 C595.50,44.55 596.50,44.48 597.50,44.41 C598.50,44.34 599.50,44.27 600.50,44.20 C601.50,44.12 602.50,44.05 603.50,43.97 C604.50,43.90 605.50,43.82 606.50,43.74 C607.50,43.66 608.50,43.58 609.50,43.50 C610.50,43.41 611.50,43.33 612.50,43.24 C613.50,43.15 614.50,43.07 615.50,42.98 C616.50,42.89 617.50,42.79 618.50,42.70 C619.50,42.61 620.50,42.51 621.50,42.41 C622.50,42.31 623.50,42.21 624.50,42.11 C625.50,42.00 626.50,41.90 627.50,41.79 C628.50,41.68 629.50,41.57 630.50,41.46 C631.50,41.34 632.50,41.23 633.50,41.11 C634.50,40.99 635.50,40.86 636.50,40.74 C637.50,40.61 638.50,40.48 639.50,40.35 C640.50,40.22 641.50,40.08 642.50,39.94 C643.50,39.80 644.50,39.66 645.50,39.51 C646.50,39.36 647.50,39.21 648.50,39.05 C649.50,38.89 651.00,38.64 651.50,38.56 C652.00,38.48 651.50,38.56 651.50,38.56" fill="none" stroke="#ab3e30" stroke-width="3.20" stroke-linecap="round" stroke-linejoin="round"/>
<circle cx="415.50" cy="23.70" r="3.20" fill="none" stroke="#ab3e30" stroke-width="1.50"/>
<circle cx="420.36" cy="26.04" r="3.20" fill="none" stroke="#ab3e30" stroke-width="1.50"/>
<circle cx="425.29" cy="28.24" r="3.20" fill="none" stroke="#ab3e30" stroke-width="1.50"/>
<circle cx="430.29" cy="30.30" r="3.20" fill="none" stroke="#ab3e30" stroke-width="1.50"/>
<circle cx="435.34" cy="32.21" r="3.20" fill="none" stroke="#ab3e30" stroke-width="1.50"/>
<circle cx="440.44" cy="33.98" r="3.20" fill="none" stroke="#ab3e30" stroke-width="1.50"/>
<circle cx="445.59" cy="35.61" r="3.20" fill="none" stroke="#ab3e30" stroke-width="1.50"/>
<circle cx="450.77" cy="37.11" r="3.20" fill="none" stroke="#ab3e30" stroke-width="1.50"/>
<circle cx="456.00" cy="38.48" r="3.20" fill="none" stroke="#ab3e30" stroke-width="1.50"/>
<circle cx="461.25" cy="39.72" r="3.20" fill="none" stroke="#ab3e30" stroke-width="1.50"/>
<circle cx="466.54" cy="40.83" r="3.20" fill="none" stroke="#ab3e30" stroke-width="1.50"/>
<circle cx="471.84" cy="41.83" r="3.20" fill="none" stroke="#ab3e30" stroke-width="1.50"/>
<circle cx="477.17" cy="42.72" r="3.20" fill="none" stroke="#ab3e30" stroke-width="1.50"/>
<circle cx="482.51" cy="43.51" r="3.20" fill="none" stroke="#ab3e30" stroke-width="1.50"/>
<circle cx="487.87" cy="44.19" r="3.20" fill="none" stroke="#ab3e30" stroke-width="1.50"/>
<circle cx="493.24" cy="44.79" r="3.20" fill="none" stroke="#ab3e30" stroke-width="1.50"/>
<circle cx="498.61" cy="45.29" r="3.20" fill="none" stroke="#ab3e30" stroke-width="1.50"/>
<circle cx="504.00" cy="45.71" r="3.20" fill="none" stroke="#ab3e30" stroke-width="1.50"/>
<circle cx="509.39" cy="46.05" r="3.20" fill="none" stroke="#ab3e30" stroke-width="1.50"/>
<circle cx="514.78" cy="46.32" r="3.20" fill="none" stroke="#ab3e30" stroke-width="1.50"/>
<circle cx="520.17" cy="46.52" r="3.20" fill="none" stroke="#ab3e30" stroke-width="1.50"/>
<circle cx="525.57" cy="46.66" r="3.20" fill="none" stroke="#ab3e30" stroke-width="1.50"/>
<circle cx="530.97" cy="46.74" r="3.20" fill="none" stroke="#ab3e30" stroke-width="1.50"/>
<circle cx="536.37" cy="46.76" r="3.20" fill="none" stroke="#ab3e30" stroke-width="1.50"/>
<circle cx="541.77" cy="46.74" r="3.20" fill="none" stroke="#ab3e30" stroke-width="1.50"/>
<circle cx="547.17" cy="46.68" r="3.20" fill="none" stroke="#ab3e30" stroke-width="1.50"/>
<circle cx="552.57" cy="46.57" r="3.20" fill="none" stroke="#ab3e30" stroke-width="1.50"/>
<circle cx="557.97" cy="46.42" r="3.20" fill="none" stroke="#ab3e30" stroke-width="1.50"/>
<circle cx="563.37" cy="46.24" r="3.20" fill="none" stroke="#ab3e30" stroke-width="1.50"/>
<circle cx="568.76" cy="46.03" r="3.20" fill="none" stroke="#ab3e30" stroke-width="1.50"/>
<circle cx="574.16" cy="45.79" r="3.20" fill="none" stroke="#ab3e30" stroke-width="1.50"/>
<circle cx="579.55" cy="45.52" r="3.20" fill="none" stroke="#ab3e30" stroke-width="1.50"/>
<circle cx="584.94" cy="45.22" r="3.20" fill="none" stroke="#ab3e30" stroke-width="1.50"/>
<circle cx="590.33" cy="44.89" r="3.20" fill="none" stroke="#ab3e30" stroke-width="1.50"/>
<circle cx="595.72" cy="44.53" r="3.20" fill="none" stroke="#ab3e30" stroke-width="1.50"/>
<circle cx="601.11" cy="44.15" r="3.20" fill="none" stroke="#ab3e30" stroke-width="1.50"/>
<circle cx="606.49" cy="43.74" r="3.20" fill="none" stroke="#ab3e30" stroke-width="1.50"/>
<circle cx="611.87" cy="43.30" r="3.20" fill="none" stroke="#ab3e30" stroke-width="1.50"/>
<circle cx="617.25" cy="42.82" r="3.20" fill="none" stroke="#ab3e30" stroke-width="1.50"/>
<circle cx="622.63" cy="42.30" r="3.20" fill="none" stroke="#ab3e30" stroke-width="1.50"/>
<circle cx="628.00" cy="41.74" r="3.20" fill="none" stroke="#ab3e30" stroke-width="1.50"/>
<circle cx="633.36" cy="41.12" r="3.20" fill="none" stroke="#ab3e30" stroke-width="1.50"/>
<circle cx="638.72" cy="40.45" r="3.20" fill="none" stroke="#ab3e30" stroke-width="1.50"/>
<circle cx="644.07" cy="39.72" r="3.20" fill="none" stroke="#ab3e30" stroke-width="1.50"/>
<circle cx="649.41" cy="38.90" r="3.20" fill="none" stroke="#ab3e30" stroke-width="1.50"/>
<ellipse cx="579.40" cy="175.40" rx="3.9" ry="3.5" fill="#d34d39"/>
<text x="587.40" y="178.40" font-size="11.50"><tspan font-style="italic">x</tspan> = 0.00</text>
<ellipse cx="579.40" cy="191.04" rx="3.9" ry="3.5" fill="#449a6a"/>
<text x="587.40" y="194.04" font-size="11.50"><tspan font-style="italic">x</tspan> = 0.01</text>
<ellipse cx="579.40" cy="206.68" rx="3.9" ry="3.5" fill="#58b9bc"/>
<text x="587.40" y="209.68" font-size="11.50"><tspan font-style="italic">x</tspan> = 0.02</text>
<ellipse cx="579.40" cy="222.32" rx="3.9" ry="3.5" fill="#4d82ba"/>
<text x="587.40" y="225.32" font-size="11.50"><tspan font-style="italic">x</tspan> = 0.03</text>
<ellipse cx="579.40" cy="237.96" rx="3.9" ry="3.5" fill="#b05ea5"/>
<text x="587.40" y="240.96" font-size="11.50"><tspan font-style="italic">x</tspan> = 0.04</text>
<ellipse cx="579.40" cy="253.60" rx="3.9" ry="3.5" fill="#ab3e30"/>
<text x="587.40" y="256.60" font-size="11.50"><tspan font-style="italic">x</tspan> = 0.05</text>
<line x1="394.50" y1="40.40" x2="397.70" y2="40.40" stroke="#231f20" stroke-width="1"/>
<line x1="394.50" y1="104.30" x2="397.70" y2="104.30" stroke="#231f20" stroke-width="1"/>
<line x1="394.50" y1="168.60" x2="397.70" y2="168.60" stroke="#231f20" stroke-width="1"/>
<line x1="394.50" y1="232.60" x2="397.70" y2="232.60" stroke="#231f20" stroke-width="1"/>
<line x1="399.60" y1="267.40" x2="399.60" y2="264.20" stroke="#231f20" stroke-width="1"/>
<line x1="441.10" y1="267.40" x2="441.10" y2="264.20" stroke="#231f20" stroke-width="1"/>
<line x1="482.60" y1="267.40" x2="482.60" y2="264.20" stroke="#231f20" stroke-width="1"/>
<line x1="524.10" y1="267.40" x2="524.10" y2="264.20" stroke="#231f20" stroke-width="1"/>
<line x1="565.60" y1="267.40" x2="565.60" y2="264.20" stroke="#231f20" stroke-width="1"/>
<line x1="607.10" y1="267.40" x2="607.10" y2="264.20" stroke="#231f20" stroke-width="1"/>
<line x1="648.60" y1="267.40" x2="648.60" y2="264.20" stroke="#231f20" stroke-width="1"/>
<path d="M394.50,7.80 H654.50 V267.40" fill="none" stroke="#808385" stroke-width="1.4"/>
<path d="M394.50,7.80 V267.40 H654.50" fill="none" stroke="#231f20" stroke-width="1.2"/>
<text x="2.80" y="330.20" font-size="11.80" text-anchor="start" letter-spacing="-0.4">(c)</text>
<text x="42.00" y="553.80" font-size="11.50" text-anchor="end">0.01</text>
<text x="42.00" y="498.50" font-size="11.50" text-anchor="end">0.03</text>
<text x="42.00" y="442.70" font-size="11.50" text-anchor="end">0.05</text>
<text x="42.00" y="387.20" font-size="11.50" text-anchor="end">0.07</text>
<text x="42.00" y="582.80" font-size="11.50" text-anchor="end">0</text>
<text x="47.50" y="592.80" font-size="11.50" text-anchor="middle">−2</text>
<text x="114.40" y="592.80" font-size="11.50" text-anchor="middle">−1</text>
<text x="177.80" y="592.80" font-size="11.50" text-anchor="middle">0</text>
<text x="241.50" y="592.80" font-size="11.50" text-anchor="middle">1</text>
<text x="306.70" y="592.80" font-size="11.50" text-anchor="middle">2</text>
<text x="177.0" y="606.4" font-size="11.50" text-anchor="middle"><tspan font-style="italic">B</tspan> (T)</text>
<text transform="translate(13.3,448.7) rotate(-90)" font-size="11.5" text-anchor="middle">MR (%)</text>
<text x="68.4" y="341.6" font-size="11.5"><tspan font-style="italic">T</tspan> = 4 K</text>
<path d="M49.50,328.71 L51.01,333.24 L52.52,337.74 L54.03,342.22 L55.54,346.68 L57.05,351.11 L58.56,355.53 L60.07,359.91 L61.58,364.27 L63.08,368.61 L64.59,372.92 L66.10,377.20 L67.61,381.45 L69.12,385.68 L70.63,389.87 L72.14,394.04 L73.65,398.17 L75.16,402.28 L76.67,406.35 L78.18,410.39 L79.69,414.40 L81.20,418.38 L82.71,422.32 L84.22,426.23 L85.73,430.10 L87.24,433.93 L88.74,437.73 L90.25,441.49 L91.76,445.22 L93.27,448.90 L94.78,452.55 L96.29,456.15 L97.80,459.72 L99.31,463.24 L100.82,466.73 L102.33,470.17 L103.84,473.56 L105.35,476.92 L106.86,480.23 L108.37,483.50 L109.88,486.72 L111.39,489.89 L112.90,493.02 L114.40,496.10 L115.91,499.13 L117.42,502.11 L118.93,505.05 L120.44,507.93 L121.95,510.77 L123.46,513.55 L124.97,516.28 L126.48,518.96 L127.99,521.59 L129.50,524.16 L131.01,526.68 L132.52,529.15 L134.03,531.56 L135.54,533.91 L137.05,536.21 L138.56,538.45 L140.06,540.63 L141.57,542.75 L143.08,544.81 L144.59,546.82 L146.10,548.76 L147.61,550.64 L149.12,552.46 L150.63,554.22 L152.14,555.91 L153.65,557.55 L155.16,559.11 L156.67,560.62 L158.18,562.05 L159.69,563.42 L161.20,564.73 L162.71,565.96 L164.22,567.13 L165.72,568.23 L167.23,569.26 L168.74,570.23 L170.25,571.12 L171.76,571.94 L173.27,572.68 L174.78,573.36 L176.29,573.96 L177.80,574.49 L179.30,573.64 L180.80,572.72 L182.31,571.74 L183.81,570.71 L185.31,569.61 L186.81,568.46 L188.32,567.26 L189.82,566.00 L191.32,564.68 L192.82,563.30 L194.33,561.87 L195.83,560.39 L197.33,558.85 L198.83,557.26 L200.34,555.61 L201.84,553.91 L203.34,552.15 L204.84,550.34 L206.34,548.48 L207.85,546.57 L209.35,544.60 L210.85,542.58 L212.35,540.51 L213.86,538.39 L215.36,536.22 L216.86,533.99 L218.36,531.72 L219.87,529.40 L221.37,527.02 L222.87,524.60 L224.37,522.13 L225.88,519.61 L227.38,517.04 L228.88,514.42 L230.38,511.76 L231.88,509.05 L233.39,506.29 L234.89,503.48 L236.39,500.63 L237.89,497.73 L239.40,494.79 L240.90,491.80 L242.40,488.76 L243.90,485.68 L245.41,482.56 L246.91,479.39 L248.41,476.17 L249.91,472.92 L251.42,469.62 L252.92,466.28 L254.42,462.89 L255.92,459.46 L257.42,455.99 L258.93,452.48 L260.43,448.93 L261.93,445.33 L263.43,441.70 L264.94,438.03 L266.44,434.31 L267.94,430.56 L269.44,426.76 L270.95,422.93 L272.45,419.06 L273.95,415.15 L275.45,411.20 L276.96,407.21 L278.46,403.19 L279.96,399.12 L281.46,395.03 L282.96,390.89 L284.47,386.72 L285.97,382.51 L287.47,378.27 L288.97,373.99 L290.48,369.68 L291.98,365.33 L293.48,360.95 L294.98,356.54 L296.49,352.09 L297.99,347.61 L299.49,343.09 L300.99,338.54 L302.50,333.96 L304.00,329.35 L305.50,324.70" fill="none" stroke="#d34d39" stroke-width="3.70" stroke-linejoin="round"/>
<path d="M50.00,486.22 L51.50,487.57 L53.01,488.93 L54.51,490.30 L56.01,491.67 L57.52,493.03 L59.02,494.41 L60.52,495.78 L62.03,497.16 L63.53,498.53 L65.04,499.91 L66.54,501.29 L68.04,502.66 L69.55,504.04 L71.05,505.42 L72.55,506.79 L74.06,508.16 L75.56,509.54 L77.06,510.91 L78.57,512.27 L80.07,513.64 L81.57,515.00 L83.08,516.35 L84.58,517.70 L86.08,519.05 L87.59,520.39 L89.09,521.73 L90.60,523.06 L92.10,524.39 L93.60,525.71 L95.11,527.02 L96.61,528.32 L98.11,529.62 L99.62,530.91 L101.12,532.19 L102.62,533.46 L104.13,534.72 L105.63,535.98 L107.13,537.22 L108.64,538.45 L110.14,539.67 L111.64,540.89 L113.15,542.09 L114.65,543.27 L116.16,544.45 L117.66,545.61 L119.16,546.76 L120.67,547.90 L122.17,549.02 L123.67,550.13 L125.18,551.23 L126.68,552.31 L128.18,553.37 L129.69,554.42 L131.19,555.46 L132.69,556.47 L134.20,557.47 L135.70,558.46 L137.20,559.42 L138.71,560.37 L140.21,561.30 L141.72,562.21 L143.22,563.10 L144.72,563.98 L146.23,564.83 L147.73,565.66 L149.23,566.47 L150.74,567.26 L152.24,568.03 L153.74,568.78 L155.25,569.51 L156.75,570.21 L158.25,570.89 L159.76,571.55 L161.26,572.19 L162.76,572.80 L164.27,573.38 L165.77,573.94 L167.28,574.48 L168.78,574.99 L170.28,575.48 L171.79,575.93 L173.29,576.37 L174.79,576.77 L176.30,577.15 L177.80,577.50 L179.30,577.01 L180.80,576.51 L182.31,575.98 L183.81,575.44 L185.31,574.89 L186.81,574.31 L188.32,573.72 L189.82,573.11 L191.32,572.49 L192.82,571.85 L194.33,571.19 L195.83,570.52 L197.33,569.83 L198.83,569.12 L200.34,568.40 L201.84,567.66 L203.34,566.91 L204.84,566.14 L206.34,565.36 L207.85,564.56 L209.35,563.74 L210.85,562.91 L212.35,562.07 L213.86,561.21 L215.36,560.33 L216.86,559.44 L218.36,558.53 L219.87,557.61 L221.37,556.68 L222.87,555.73 L224.37,554.77 L225.88,553.79 L227.38,552.80 L228.88,551.79 L230.38,550.77 L231.88,549.74 L233.39,548.69 L234.89,547.63 L236.39,546.55 L237.89,545.47 L239.40,544.36 L240.90,543.25 L242.40,542.12 L243.90,540.98 L245.41,539.83 L246.91,538.66 L248.41,537.48 L249.91,536.29 L251.42,535.08 L252.92,533.87 L254.42,532.64 L255.92,531.40 L257.42,530.14 L258.93,528.88 L260.43,527.60 L261.93,526.31 L263.43,525.01 L264.94,523.70 L266.44,522.37 L267.94,521.04 L269.44,519.69 L270.95,518.33 L272.45,516.96 L273.95,515.58 L275.45,514.19 L276.96,512.79 L278.46,511.38 L279.96,509.95 L281.46,508.52 L282.96,507.07 L284.47,505.62 L285.97,504.15 L287.47,502.68 L288.97,501.19 L290.48,499.70 L291.98,498.20 L293.48,496.68 L294.98,495.16 L296.49,493.62 L297.99,492.08 L299.49,490.53 L300.99,488.97 L302.50,487.40 L304.00,485.82 L305.50,484.23" fill="none" stroke="#449a6a" stroke-width="3.70" stroke-linejoin="round"/>
<path d="M50.00,516.34 L51.50,517.19 L53.01,518.02 L54.51,518.85 L56.01,519.67 L57.52,520.48 L59.02,521.28 L60.52,522.07 L62.03,522.85 L63.53,523.63 L65.04,524.40 L66.54,525.16 L68.04,525.92 L69.55,526.67 L71.05,527.41 L72.55,528.15 L74.06,528.88 L75.56,529.60 L77.06,530.32 L78.57,531.03 L80.07,531.74 L81.57,532.45 L83.08,533.15 L84.58,533.84 L86.08,534.53 L87.59,535.22 L89.09,535.90 L90.60,536.58 L92.10,537.25 L93.60,537.93 L95.11,538.60 L96.61,539.26 L98.11,539.93 L99.62,540.59 L101.12,541.25 L102.62,541.91 L104.13,542.56 L105.63,543.22 L107.13,543.88 L108.64,544.53 L110.14,545.18 L111.64,545.83 L113.15,546.49 L114.65,547.14 L116.16,547.79 L117.66,548.44 L119.16,549.10 L120.67,549.75 L122.17,550.41 L123.67,551.07 L125.18,551.72 L126.68,552.38 L128.18,553.05 L129.69,553.71 L131.19,554.38 L132.69,555.05 L134.20,555.72 L135.70,556.40 L137.20,557.08 L138.71,557.76 L140.21,558.45 L141.72,559.14 L143.22,559.83 L144.72,560.53 L146.23,561.23 L147.73,561.94 L149.23,562.66 L150.74,563.38 L152.24,564.10 L153.74,564.83 L155.25,565.57 L156.75,566.31 L158.25,567.06 L159.76,567.82 L161.26,568.58 L162.76,569.35 L164.27,570.13 L165.77,570.92 L167.28,571.71 L168.78,572.51 L170.28,573.32 L171.79,574.14 L173.29,574.97 L174.79,575.80 L176.30,576.65 L177.80,577.50 L179.30,576.75 L180.80,576.00 L182.31,575.26 L183.81,574.52 L185.31,573.79 L186.81,573.07 L188.32,572.34 L189.82,571.63 L191.32,570.92 L192.82,570.21 L194.33,569.50 L195.83,568.80 L197.33,568.11 L198.83,567.42 L200.34,566.73 L201.84,566.05 L203.34,565.37 L204.84,564.69 L206.34,564.02 L207.85,563.35 L209.35,562.68 L210.85,562.02 L212.35,561.36 L213.86,560.70 L215.36,560.04 L216.86,559.39 L218.36,558.74 L219.87,558.09 L221.37,557.45 L222.87,556.80 L224.37,556.16 L225.88,555.52 L227.38,554.89 L228.88,554.25 L230.38,553.62 L231.88,552.99 L233.39,552.35 L234.89,551.72 L236.39,551.10 L237.89,550.47 L239.40,549.84 L240.90,549.22 L242.40,548.59 L243.90,547.97 L245.41,547.34 L246.91,546.72 L248.41,546.10 L249.91,545.47 L251.42,544.85 L252.92,544.23 L254.42,543.60 L255.92,542.98 L257.42,542.36 L258.93,541.73 L260.43,541.11 L261.93,540.48 L263.43,539.85 L264.94,539.22 L266.44,538.60 L267.94,537.96 L269.44,537.33 L270.95,536.70 L272.45,536.07 L273.95,535.43 L275.45,534.79 L276.96,534.15 L278.46,533.51 L279.96,532.87 L281.46,532.22 L282.96,531.57 L284.47,530.92 L285.97,530.27 L287.47,529.61 L288.97,528.95 L290.48,528.29 L291.98,527.62 L293.48,526.96 L294.98,526.28 L296.49,525.61 L297.99,524.93 L299.49,524.25 L300.99,523.56 L302.50,522.88 L304.00,522.18 L305.50,521.49" fill="none" stroke="#58b9bc" stroke-width="3.70" stroke-linejoin="round"/>
<path d="M50.00,525.43 L51.50,526.06 L53.01,526.68 L54.51,527.30 L56.01,527.91 L57.52,528.52 L59.02,529.13 L60.52,529.73 L62.03,530.33 L63.53,530.92 L65.04,531.51 L66.54,532.10 L68.04,532.68 L69.55,533.26 L71.05,533.84 L72.55,534.41 L74.06,534.98 L75.56,535.55 L77.06,536.12 L78.57,536.68 L80.07,537.25 L81.57,537.81 L83.08,538.36 L84.58,538.92 L86.08,539.48 L87.59,540.03 L89.09,540.59 L90.60,541.14 L92.10,541.69 L93.60,542.24 L95.11,542.79 L96.61,543.34 L98.11,543.90 L99.62,544.45 L101.12,545.00 L102.62,545.55 L104.13,546.10 L105.63,546.66 L107.13,547.21 L108.64,547.77 L110.14,548.33 L111.64,548.88 L113.15,549.44 L114.65,550.01 L116.16,550.57 L117.66,551.14 L119.16,551.71 L120.67,552.28 L122.17,552.85 L123.67,553.43 L125.18,554.01 L126.68,554.59 L128.18,555.18 L129.69,555.77 L131.19,556.36 L132.69,556.96 L134.20,557.56 L135.70,558.16 L137.20,558.77 L138.71,559.39 L140.21,560.01 L141.72,560.63 L143.22,561.26 L144.72,561.90 L146.23,562.54 L147.73,563.18 L149.23,563.83 L150.74,564.49 L152.24,565.15 L153.74,565.82 L155.25,566.49 L156.75,567.18 L158.25,567.86 L159.76,568.56 L161.26,569.26 L162.76,569.97 L164.27,570.69 L165.77,571.41 L167.28,572.15 L168.78,572.89 L170.28,573.63 L171.79,574.39 L173.29,575.15 L174.79,575.93 L176.30,576.71 L177.80,577.50 L179.30,576.94 L180.80,576.39 L182.31,575.82 L183.81,575.26 L185.31,574.69 L186.81,574.12 L188.32,573.54 L189.82,572.96 L191.32,572.38 L192.82,571.80 L194.33,571.21 L195.83,570.62 L197.33,570.03 L198.83,569.44 L200.34,568.84 L201.84,568.25 L203.34,567.65 L204.84,567.05 L206.34,566.44 L207.85,565.84 L209.35,565.23 L210.85,564.63 L212.35,564.02 L213.86,563.41 L215.36,562.80 L216.86,562.18 L218.36,561.57 L219.87,560.96 L221.37,560.34 L222.87,559.73 L224.37,559.12 L225.88,558.50 L227.38,557.89 L228.88,557.27 L230.38,556.65 L231.88,556.04 L233.39,555.42 L234.89,554.81 L236.39,554.20 L237.89,553.58 L239.40,552.97 L240.90,552.36 L242.40,551.75 L243.90,551.14 L245.41,550.53 L246.91,549.92 L248.41,549.31 L249.91,548.71 L251.42,548.10 L252.92,547.50 L254.42,546.90 L255.92,546.30 L257.42,545.71 L258.93,545.11 L260.43,544.52 L261.93,543.93 L263.43,543.35 L264.94,542.76 L266.44,542.18 L267.94,541.60 L269.44,541.03 L270.95,540.45 L272.45,539.88 L273.95,539.32 L275.45,538.75 L276.96,538.19 L278.46,537.63 L279.96,537.08 L281.46,536.53 L282.96,535.99 L284.47,535.45 L285.97,534.91 L287.47,534.37 L288.97,533.85 L290.48,533.32 L291.98,532.80 L293.48,532.29 L294.98,531.77 L296.49,531.27 L297.99,530.77 L299.49,530.27 L300.99,529.78 L302.50,529.30 L304.00,528.82 L305.50,528.34" fill="none" stroke="#4d82ba" stroke-width="3.70" stroke-linejoin="round"/>
<path d="M50.00,545.91 L51.50,546.18 L53.01,546.44 L54.51,546.71 L56.01,546.99 L57.52,547.26 L59.02,547.53 L60.52,547.81 L62.03,548.09 L63.53,548.37 L65.04,548.65 L66.54,548.94 L68.04,549.22 L69.55,549.51 L71.05,549.80 L72.55,550.09 L74.06,550.39 L75.56,550.68 L77.06,550.98 L78.57,551.28 L80.07,551.59 L81.57,551.89 L83.08,552.20 L84.58,552.51 L86.08,552.82 L87.59,553.14 L89.09,553.45 L90.60,553.77 L92.10,554.09 L93.60,554.42 L95.11,554.75 L96.61,555.08 L98.11,555.41 L99.62,555.74 L101.12,556.08 L102.62,556.42 L104.13,556.77 L105.63,557.11 L107.13,557.46 L108.64,557.81 L110.14,558.17 L111.64,558.53 L113.15,558.89 L114.65,559.25 L116.16,559.62 L117.66,559.99 L119.16,560.36 L120.67,560.74 L122.17,561.12 L123.67,561.50 L125.18,561.89 L126.68,562.28 L128.18,562.67 L129.69,563.07 L131.19,563.47 L132.69,563.88 L134.20,564.28 L135.70,564.69 L137.20,565.11 L138.71,565.53 L140.21,565.95 L141.72,566.37 L143.22,566.80 L144.72,567.24 L146.23,567.67 L147.73,568.12 L149.23,568.56 L150.74,569.01 L152.24,569.46 L153.74,569.92 L155.25,570.38 L156.75,570.84 L158.25,571.31 L159.76,571.79 L161.26,572.26 L162.76,572.74 L164.27,573.23 L165.77,573.72 L167.28,574.21 L168.78,574.71 L170.28,575.22 L171.79,575.72 L173.29,576.24 L174.79,576.75 L176.30,577.27 L177.80,577.80 L179.30,577.32 L180.80,576.84 L182.31,576.36 L183.81,575.87 L185.31,575.38 L186.81,574.89 L188.32,574.40 L189.82,573.90 L191.32,573.41 L192.82,572.91 L194.33,572.41 L195.83,571.91 L197.33,571.41 L198.83,570.91 L200.34,570.40 L201.84,569.90 L203.34,569.39 L204.84,568.89 L206.34,568.38 L207.85,567.87 L209.35,567.37 L210.85,566.86 L212.35,566.35 L213.86,565.84 L215.36,565.34 L216.86,564.83 L218.36,564.32 L219.87,563.81 L221.37,563.31 L222.87,562.80 L224.37,562.30 L225.88,561.79 L227.38,561.29 L228.88,560.79 L230.38,560.29 L231.88,559.79 L233.39,559.29 L234.89,558.80 L236.39,558.30 L237.89,557.81 L239.40,557.32 L240.90,556.83 L242.40,556.34 L243.90,555.86 L245.41,555.38 L246.91,554.90 L248.41,554.42 L249.91,553.94 L251.42,553.47 L252.92,553.00 L254.42,552.54 L255.92,552.08 L257.42,551.62 L258.93,551.16 L260.43,550.71 L261.93,550.26 L263.43,549.81 L264.94,549.37 L266.44,548.93 L267.94,548.50 L269.44,548.07 L270.95,547.65 L272.45,547.23 L273.95,546.81 L275.45,546.40 L276.96,545.99 L278.46,545.59 L279.96,545.19 L281.46,544.80 L282.96,544.41 L284.47,544.03 L285.97,543.65 L287.47,543.28 L288.97,542.92 L290.48,542.56 L291.98,542.20 L293.48,541.85 L294.98,541.51 L296.49,541.18 L297.99,540.85 L299.49,540.52 L300.99,540.21 L302.50,539.90 L304.00,539.59 L305.50,539.30" fill="none" stroke="#b05ea5" stroke-width="3.70" stroke-linejoin="round"/>
<path d="M50.00,547.44 L51.50,547.69 L53.01,547.94 L54.51,548.19 L56.01,548.45 L57.52,548.70 L59.02,548.96 L60.52,549.23 L62.03,549.49 L63.53,549.76 L65.04,550.03 L66.54,550.30 L68.04,550.58 L69.55,550.86 L71.05,551.14 L72.55,551.43 L74.06,551.71 L75.56,552.00 L77.06,552.29 L78.57,552.59 L80.07,552.89 L81.57,553.19 L83.08,553.49 L84.58,553.80 L86.08,554.10 L87.59,554.42 L89.09,554.73 L90.60,555.05 L92.10,555.36 L93.60,555.69 L95.11,556.01 L96.61,556.34 L98.11,556.67 L99.62,557.00 L101.12,557.34 L102.62,557.67 L104.13,558.01 L105.63,558.36 L107.13,558.70 L108.64,559.05 L110.14,559.40 L111.64,559.76 L113.15,560.11 L114.65,560.47 L116.16,560.84 L117.66,561.20 L119.16,561.57 L120.67,561.94 L122.17,562.31 L123.67,562.69 L125.18,563.07 L126.68,563.45 L128.18,563.83 L129.69,564.22 L131.19,564.61 L132.69,565.00 L134.20,565.39 L135.70,565.79 L137.20,566.19 L138.71,566.59 L140.21,567.00 L141.72,567.40 L143.22,567.81 L144.72,568.23 L146.23,568.64 L147.73,569.06 L149.23,569.48 L150.74,569.91 L152.24,570.33 L153.74,570.76 L155.25,571.20 L156.75,571.63 L158.25,572.07 L159.76,572.51 L161.26,572.95 L162.76,573.40 L164.27,573.84 L165.77,574.30 L167.28,574.75 L168.78,575.21 L170.28,575.66 L171.79,576.13 L173.29,576.59 L174.79,577.06 L176.30,577.53 L177.80,578.00 L179.30,577.61 L180.80,577.22 L182.31,576.82 L183.81,576.42 L185.31,576.01 L186.81,575.60 L188.32,575.19 L189.82,574.77 L191.32,574.34 L192.82,573.92 L194.33,573.49 L195.83,573.05 L197.33,572.62 L198.83,572.18 L200.34,571.73 L201.84,571.29 L203.34,570.84 L204.84,570.39 L206.34,569.93 L207.85,569.48 L209.35,569.02 L210.85,568.56 L212.35,568.10 L213.86,567.64 L215.36,567.18 L216.86,566.71 L218.36,566.25 L219.87,565.78 L221.37,565.31 L222.87,564.85 L224.37,564.38 L225.88,563.91 L227.38,563.44 L228.88,562.97 L230.38,562.50 L231.88,562.03 L233.39,561.57 L234.89,561.10 L236.39,560.63 L237.89,560.17 L239.40,559.70 L240.90,559.24 L242.40,558.78 L243.90,558.32 L245.41,557.86 L246.91,557.40 L248.41,556.95 L249.91,556.50 L251.42,556.05 L252.92,555.60 L254.42,555.15 L255.92,554.71 L257.42,554.27 L258.93,553.84 L260.43,553.41 L261.93,552.98 L263.43,552.55 L264.94,552.13 L266.44,551.71 L267.94,551.30 L269.44,550.89 L270.95,550.48 L272.45,550.08 L273.95,549.68 L275.45,549.29 L276.96,548.91 L278.46,548.52 L279.96,548.15 L281.46,547.78 L282.96,547.41 L284.47,547.05 L285.97,546.70 L287.47,546.35 L288.97,546.01 L290.48,545.68 L291.98,545.35 L293.48,545.03 L294.98,544.71 L296.49,544.40 L297.99,544.10 L299.49,543.81 L300.99,543.52 L302.50,543.24 L304.00,542.97 L305.50,542.71" fill="none" stroke="#ab3e30" stroke-width="3.70" stroke-linejoin="round"/>
<line x1="187.4" y1="334.20" x2="207.7" y2="334.20" stroke="#d34d39" stroke-width="2"/>
<text x="213.6" y="338.20" font-size="11.6"><tspan font-style="italic">x</tspan> = 0.00</text>
<line x1="187.4" y1="350.26" x2="207.7" y2="350.26" stroke="#449a6a" stroke-width="2"/>
<text x="213.6" y="354.26" font-size="11.6"><tspan font-style="italic">x</tspan> = 0.01</text>
<line x1="187.4" y1="366.32" x2="207.7" y2="366.32" stroke="#58b9bc" stroke-width="2"/>
<text x="213.6" y="370.32" font-size="11.6"><tspan font-style="italic">x</tspan> = 0.02</text>
<line x1="187.4" y1="382.38" x2="207.7" y2="382.38" stroke="#4d82ba" stroke-width="2"/>
<text x="213.6" y="386.38" font-size="11.6"><tspan font-style="italic">x</tspan> = 0.03</text>
<line x1="187.4" y1="398.44" x2="207.7" y2="398.44" stroke="#b05ea5" stroke-width="2"/>
<text x="213.6" y="402.44" font-size="11.6"><tspan font-style="italic">x</tspan> = 0.04</text>
<line x1="187.4" y1="414.50" x2="207.7" y2="414.50" stroke="#ab3e30" stroke-width="2"/>
<text x="213.6" y="418.50" font-size="11.6"><tspan font-style="italic">x</tspan> = 0.05</text>
<rect x="48.10" y="579.30" width="258.00" height="3" fill="#fff"/>
<line x1="47.50" y1="549.70" x2="50.70" y2="549.70" stroke="#231f20" stroke-width="1"/>
<line x1="47.50" y1="494.40" x2="50.70" y2="494.40" stroke="#231f20" stroke-width="1"/>
<line x1="47.50" y1="438.60" x2="50.70" y2="438.60" stroke="#231f20" stroke-width="1"/>
<line x1="47.50" y1="383.10" x2="50.70" y2="383.10" stroke="#231f20" stroke-width="1"/>
<line x1="114.40" y1="578.70" x2="114.40" y2="575.50" stroke="#231f20" stroke-width="1"/>
<line x1="177.80" y1="578.70" x2="177.80" y2="575.50" stroke="#231f20" stroke-width="1"/>
<line x1="241.50" y1="578.70" x2="241.50" y2="575.50" stroke="#231f20" stroke-width="1"/>
<path d="M47.50,319.20 H306.80 V578.70" fill="none" stroke="#808385" stroke-width="1.4"/>
<path d="M47.50,319.20 V578.70 H306.80" fill="none" stroke="#231f20" stroke-width="1.2"/>
<text x="342.30" y="329.30" font-size="11.80" text-anchor="start" letter-spacing="-0.4">(d)</text>
<text x="388.60" y="517.10" font-size="11.50" text-anchor="end">0.001</text>
<text x="388.60" y="452.80" font-size="11.50" text-anchor="end">0.002</text>
<text x="388.60" y="388.50" font-size="11.50" text-anchor="end">0.003</text>
<text x="389.00" y="582.20" font-size="11.50" text-anchor="end">0</text>
<text x="395.00" y="592.80" font-size="11.50" text-anchor="middle">−0.4</text>
<text x="459.90" y="592.80" font-size="11.50" text-anchor="middle">−0.2</text>
<text x="524.40" y="592.80" font-size="11.50" text-anchor="middle">0</text>
<text x="588.50" y="592.80" font-size="11.50" text-anchor="middle">1.2</text>
<text x="654.30" y="592.80" font-size="11.50" text-anchor="middle">0.4</text>
<text x="524.3" y="606.4" font-size="11.50" text-anchor="middle"><tspan font-style="italic">B</tspan> (T)</text>
<text transform="translate(353.2,448.3) rotate(-90)" font-size="11.5" text-anchor="middle">MR (%)</text>
<text x="415.8" y="341.0" font-size="11.5"><tspan font-style="italic">x</tspan> = 0.04</text>
<path d="M397.00,368.28 L398.50,370.05 L400.00,371.85 L401.50,373.68 L403.00,375.53 L404.50,377.42 L406.00,379.34 L407.50,381.28 L409.00,383.25 L410.50,385.25 L412.00,387.27 L413.50,389.32 L415.00,391.39 L416.50,393.49 L418.00,395.61 L419.50,397.75 L421.00,399.92 L422.50,402.12 L424.00,404.33 L425.50,406.56 L427.00,408.82 L428.50,411.10 L430.00,413.40 L431.50,415.72 L433.00,418.05 L434.50,420.41 L436.00,422.78 L437.50,425.18 L439.00,427.58 L440.50,430.01 L442.00,432.45 L443.50,434.91 L445.00,437.39 L446.50,439.88 L448.00,442.38 L449.50,444.90 L451.00,447.43 L452.50,449.98 L454.00,452.53 L455.50,455.10 L457.00,457.68 L458.50,460.28 L460.00,462.88 L461.50,465.49 L463.00,468.11 L464.50,470.74 L466.00,473.39 L467.50,476.03 L469.00,478.69 L470.50,481.35 L472.00,484.02 L473.50,486.70 L475.00,489.38 L476.50,492.07 L478.00,494.76 L479.50,497.46 L481.00,500.16 L482.50,502.87 L484.00,505.57 L485.50,508.28 L487.00,511.00 L488.50,513.71 L490.00,516.42 L491.50,519.14 L493.00,521.85 L494.50,524.57 L496.00,527.28 L497.50,529.99 L499.00,532.70 L500.50,535.41 L502.00,538.11 L503.50,540.81 L505.00,543.51 L506.50,546.20 L508.00,548.89 L509.50,551.58 L511.00,554.25 L512.50,556.92 L514.00,559.59 L515.50,562.25 L517.00,564.89 L518.50,567.54 L520.00,570.17 L521.50,572.79 L523.00,575.40 L524.50,578.01 L526.01,575.41 L527.52,572.79 L529.04,570.13 L530.55,567.44 L532.06,564.72 L533.57,561.98 L535.08,559.21 L536.59,556.41 L538.11,553.59 L539.62,550.74 L541.13,547.87 L542.64,544.98 L544.15,542.06 L545.66,539.13 L547.18,536.17 L548.69,533.20 L550.20,530.21 L551.71,527.21 L553.22,524.19 L554.74,521.15 L556.25,518.10 L557.76,515.04 L559.27,511.96 L560.78,508.88 L562.29,505.78 L563.81,502.68 L565.32,499.57 L566.83,496.45 L568.34,493.33 L569.85,490.20 L571.36,487.06 L572.88,483.93 L574.39,480.79 L575.90,477.65 L577.41,474.50 L578.92,471.36 L580.44,468.23 L581.95,465.09 L583.46,461.96 L584.97,458.83 L586.48,455.71 L587.99,452.59 L589.51,449.48 L591.02,446.38 L592.53,443.29 L594.04,440.20 L595.55,437.13 L597.06,434.07 L598.58,431.03 L600.09,428.00 L601.60,424.98 L603.11,421.98 L604.62,418.99 L606.14,416.03 L607.65,413.08 L609.16,410.15 L610.67,407.24 L612.18,404.36 L613.69,401.49 L615.21,398.65 L616.72,395.84 L618.23,393.04 L619.74,390.28 L621.25,387.54 L622.76,384.83 L624.28,382.15 L625.79,379.50 L627.30,376.89 L628.81,374.30 L630.32,371.74 L631.84,369.22 L633.35,366.74 L634.86,364.29 L636.37,361.88 L637.88,359.50 L639.39,357.17 L640.91,354.87 L642.42,352.61 L643.93,350.40 L645.44,348.23 L646.95,346.10 L648.46,344.01 L649.98,341.97 L651.49,339.98 L653.00,338.04" fill="none" stroke="#d34d39" stroke-width="3.70" stroke-linejoin="round"/>
<path d="M397.00,397.72 L398.50,399.44 L400.00,401.20 L401.50,402.98 L403.00,404.80 L404.50,406.65 L406.00,408.52 L407.50,410.43 L409.00,412.36 L410.50,414.31 L412.00,416.30 L413.50,418.30 L415.00,420.33 L416.50,422.38 L418.00,424.46 L419.50,426.56 L421.00,428.67 L422.50,430.81 L424.00,432.96 L425.50,435.14 L427.00,437.33 L428.50,439.54 L430.00,441.76 L431.50,444.00 L433.00,446.25 L434.50,448.51 L436.00,450.79 L437.50,453.08 L439.00,455.38 L440.50,457.69 L442.00,460.01 L443.50,462.34 L445.00,464.67 L446.50,467.01 L448.00,469.36 L449.50,471.71 L451.00,474.07 L452.50,476.43 L454.00,478.79 L455.50,481.16 L457.00,483.53 L458.50,485.89 L460.00,488.26 L461.50,490.62 L463.00,492.99 L464.50,495.34 L466.00,497.70 L467.50,500.05 L469.00,502.40 L470.50,504.74 L472.00,507.07 L473.50,509.39 L475.00,511.71 L476.50,514.02 L478.00,516.31 L479.50,518.60 L481.00,520.87 L482.50,523.13 L484.00,525.38 L485.50,527.61 L487.00,529.83 L488.50,532.03 L490.00,534.22 L491.50,536.39 L493.00,538.54 L494.50,540.67 L496.00,542.78 L497.50,544.87 L499.00,546.93 L500.50,548.98 L502.00,551.00 L503.50,553.00 L505.00,554.98 L506.50,556.92 L508.00,558.84 L509.50,560.74 L511.00,562.61 L512.50,564.44 L514.00,566.25 L515.50,568.03 L517.00,569.77 L518.50,571.49 L520.00,573.17 L521.50,574.82 L523.00,576.43 L524.50,578.01 L526.00,576.32 L527.50,574.59 L529.00,572.82 L530.50,571.02 L532.00,569.18 L533.50,567.31 L535.00,565.41 L536.50,563.47 L538.00,561.50 L539.50,559.50 L541.00,557.46 L542.50,555.40 L544.00,553.31 L545.50,551.20 L547.00,549.05 L548.50,546.88 L550.00,544.69 L551.50,542.47 L553.00,540.23 L554.50,537.97 L556.00,535.68 L557.50,533.38 L559.00,531.05 L560.50,528.71 L562.00,526.35 L563.50,523.97 L565.00,521.57 L566.50,519.16 L568.00,516.74 L569.50,514.30 L571.00,511.85 L572.50,509.39 L574.00,506.92 L575.50,504.44 L577.00,501.95 L578.50,499.45 L580.00,496.94 L581.50,494.43 L583.00,491.91 L584.50,489.39 L586.00,486.86 L587.50,484.33 L589.00,481.80 L590.50,479.27 L592.00,476.73 L593.50,474.20 L595.00,471.67 L596.50,469.14 L598.00,466.62 L599.50,464.10 L601.00,461.58 L602.50,459.07 L604.00,456.57 L605.50,454.08 L607.00,451.59 L608.50,449.12 L610.00,446.65 L611.50,444.20 L613.00,441.75 L614.50,439.32 L616.00,436.91 L617.50,434.51 L619.00,432.12 L620.50,429.76 L622.00,427.41 L623.50,425.07 L625.00,422.76 L626.50,420.47 L628.00,418.19 L629.50,415.94 L631.00,413.72 L632.50,411.51 L634.00,409.33 L635.50,407.18 L637.00,405.05 L638.50,402.95 L640.00,400.88 L641.50,398.84 L643.00,396.83 L644.50,394.84 L646.00,392.89 L647.50,390.97 L649.00,389.09 L650.50,387.24 L652.00,385.42 L653.50,383.64" fill="none" stroke="#449a6a" stroke-width="3.70" stroke-linejoin="round"/>
<path d="M397.00,432.00 L398.50,433.66 L400.00,435.33 L401.50,437.02 L403.00,438.71 L404.50,440.42 L406.00,442.15 L407.50,443.88 L409.00,445.63 L410.50,447.38 L412.00,449.15 L413.50,450.93 L415.00,452.71 L416.50,454.51 L418.00,456.31 L419.50,458.13 L421.00,459.95 L422.50,461.77 L424.00,463.61 L425.50,465.45 L427.00,467.29 L428.50,469.14 L430.00,471.00 L431.50,472.86 L433.00,474.73 L434.50,476.59 L436.00,478.47 L437.50,480.34 L439.00,482.22 L440.50,484.09 L442.00,485.97 L443.50,487.85 L445.00,489.74 L446.50,491.62 L448.00,493.50 L449.50,495.38 L451.00,497.25 L452.50,499.13 L454.00,501.00 L455.50,502.87 L457.00,504.74 L458.50,506.60 L460.00,508.46 L461.50,510.32 L463.00,512.17 L464.50,514.01 L466.00,515.85 L467.50,517.68 L469.00,519.51 L470.50,521.32 L472.00,523.13 L473.50,524.94 L475.00,526.73 L476.50,528.51 L478.00,530.29 L479.50,532.05 L481.00,533.80 L482.50,535.54 L484.00,537.28 L485.50,538.99 L487.00,540.70 L488.50,542.39 L490.00,544.07 L491.50,545.74 L493.00,547.39 L494.50,549.03 L496.00,550.65 L497.50,552.26 L499.00,553.85 L500.50,555.43 L502.00,556.98 L503.50,558.52 L505.00,560.05 L506.50,561.55 L508.00,563.03 L509.50,564.50 L511.00,565.95 L512.50,567.37 L514.00,568.78 L515.50,570.16 L517.00,571.53 L518.50,572.87 L520.00,574.19 L521.50,575.48 L523.00,576.75 L524.50,578.00 L526.02,576.92 L527.53,575.78 L529.05,574.60 L530.57,573.37 L532.08,572.09 L533.60,570.77 L535.12,569.40 L536.63,567.99 L538.15,566.53 L539.66,565.03 L541.18,563.50 L542.70,561.92 L544.21,560.30 L545.73,558.65 L547.25,556.96 L548.76,555.23 L550.28,553.47 L551.80,551.68 L553.31,549.85 L554.83,547.99 L556.35,546.10 L557.86,544.18 L559.38,542.23 L560.90,540.26 L562.41,538.25 L563.93,536.22 L565.44,534.17 L566.96,532.09 L568.48,530.00 L569.99,527.87 L571.51,525.73 L573.03,523.57 L574.54,521.39 L576.06,519.19 L577.58,516.98 L579.09,514.75 L580.61,512.50 L582.13,510.25 L583.64,507.98 L585.16,505.69 L586.68,503.40 L588.19,501.10 L589.71,498.79 L591.22,496.47 L592.74,494.14 L594.26,491.81 L595.77,489.48 L597.29,487.14 L598.81,484.80 L600.32,482.45 L601.84,480.11 L603.36,477.77 L604.87,475.43 L606.39,473.09 L607.91,470.75 L609.42,468.42 L610.94,466.09 L612.46,463.77 L613.97,461.46 L615.49,459.16 L617.00,456.87 L618.52,454.58 L620.04,452.31 L621.55,450.05 L623.07,447.81 L624.59,445.58 L626.10,443.36 L627.62,441.16 L629.14,438.98 L630.65,436.82 L632.17,434.67 L633.69,432.55 L635.20,430.45 L636.72,428.37 L638.24,426.32 L639.75,424.29 L641.27,422.28 L642.78,420.30 L644.30,418.35 L645.82,416.43 L647.33,414.54 L648.85,412.68 L650.37,410.85 L651.88,409.05 L653.40,407.29" fill="none" stroke="#58b9bc" stroke-width="3.70" stroke-linejoin="round"/>
<path d="M397.00,451.85 L398.50,453.67 L400.00,455.48 L401.50,457.29 L403.00,459.09 L404.50,460.88 L406.00,462.66 L407.50,464.44 L409.00,466.22 L410.50,467.98 L412.00,469.74 L413.50,471.49 L415.00,473.24 L416.50,474.97 L418.00,476.70 L419.50,478.43 L421.00,480.14 L422.50,481.85 L424.00,483.55 L425.50,485.24 L427.00,486.93 L428.50,488.61 L430.00,490.28 L431.50,491.94 L433.00,493.60 L434.50,495.25 L436.00,496.89 L437.50,498.52 L439.00,500.14 L440.50,501.76 L442.00,503.37 L443.50,504.97 L445.00,506.56 L446.50,508.15 L448.00,509.72 L449.50,511.29 L451.00,512.85 L452.50,514.40 L454.00,515.94 L455.50,517.48 L457.00,519.00 L458.50,520.52 L460.00,522.03 L461.50,523.53 L463.00,525.02 L464.50,526.50 L466.00,527.97 L467.50,529.44 L469.00,530.89 L470.50,532.34 L472.00,533.78 L473.50,535.21 L475.00,536.63 L476.50,538.04 L478.00,539.44 L479.50,540.83 L481.00,542.21 L482.50,543.58 L484.00,544.95 L485.50,546.30 L487.00,547.65 L488.50,548.98 L490.00,550.31 L491.50,551.62 L493.00,552.93 L494.50,554.22 L496.00,555.51 L497.50,556.78 L499.00,558.05 L500.50,559.31 L502.00,560.55 L503.50,561.79 L505.00,563.01 L506.50,564.23 L508.00,565.43 L509.50,566.63 L511.00,567.81 L512.50,568.99 L514.00,570.15 L515.50,571.30 L517.00,572.45 L518.50,573.58 L520.00,574.70 L521.50,575.81 L523.00,576.91 L524.50,578.00 L526.01,577.10 L527.51,576.15 L529.02,575.17 L530.52,574.16 L532.03,573.12 L533.54,572.04 L535.04,570.93 L536.55,569.79 L538.05,568.61 L539.56,567.41 L541.07,566.18 L542.57,564.92 L544.08,563.62 L545.58,562.31 L547.09,560.96 L548.60,559.59 L550.10,558.19 L551.61,556.76 L553.11,555.31 L554.62,553.84 L556.12,552.34 L557.63,550.82 L559.14,549.28 L560.64,547.72 L562.15,546.13 L563.65,544.53 L565.16,542.90 L566.67,541.26 L568.17,539.59 L569.68,537.91 L571.18,536.21 L572.69,534.50 L574.20,532.77 L575.70,531.02 L577.21,529.26 L578.71,527.48 L580.22,525.69 L581.73,523.89 L583.23,522.07 L584.74,520.25 L586.24,518.41 L587.75,516.56 L589.26,514.70 L590.76,512.83 L592.27,510.96 L593.77,509.07 L595.28,507.18 L596.79,505.28 L598.29,503.38 L599.80,501.47 L601.30,499.55 L602.81,497.63 L604.32,495.71 L605.82,493.78 L607.33,491.86 L608.83,489.92 L610.34,487.99 L611.85,486.06 L613.35,484.13 L614.86,482.20 L616.36,480.27 L617.87,478.34 L619.38,476.41 L620.88,474.49 L622.39,472.57 L623.89,470.66 L625.40,468.75 L626.90,466.84 L628.41,464.95 L629.92,463.05 L631.42,461.17 L632.93,459.30 L634.43,457.43 L635.94,455.57 L637.45,453.73 L638.95,451.89 L640.46,450.07 L641.96,448.25 L643.47,446.45 L644.98,444.66 L646.48,442.89 L647.99,441.13 L649.49,439.39 L651.00,437.66" fill="none" stroke="#4d82ba" stroke-width="3.70" stroke-linejoin="round"/>
<path d="M397.00,473.69 L398.50,475.22 L400.00,476.75 L401.50,478.28 L403.00,479.81 L404.50,481.33 L406.00,482.85 L407.50,484.37 L409.00,485.89 L410.50,487.40 L412.00,488.91 L413.50,490.41 L415.00,491.91 L416.50,493.41 L418.00,494.90 L419.50,496.39 L421.00,497.87 L422.50,499.35 L424.00,500.82 L425.50,502.29 L427.00,503.75 L428.50,505.21 L430.00,506.66 L431.50,508.10 L433.00,509.54 L434.50,510.98 L436.00,512.40 L437.50,513.82 L439.00,515.23 L440.50,516.64 L442.00,518.04 L443.50,519.42 L445.00,520.81 L446.50,522.18 L448.00,523.55 L449.50,524.91 L451.00,526.25 L452.50,527.60 L454.00,528.93 L455.50,530.25 L457.00,531.56 L458.50,532.87 L460.00,534.16 L461.50,535.45 L463.00,536.72 L464.50,537.99 L466.00,539.24 L467.50,540.48 L469.00,541.72 L470.50,542.94 L472.00,544.15 L473.50,545.35 L475.00,546.53 L476.50,547.71 L478.00,548.87 L479.50,550.03 L481.00,551.16 L482.50,552.29 L484.00,553.41 L485.50,554.51 L487.00,555.60 L488.50,556.67 L490.00,557.73 L491.50,558.78 L493.00,559.81 L494.50,560.83 L496.00,561.84 L497.50,562.83 L499.00,563.81 L500.50,564.77 L502.00,565.72 L503.50,566.65 L505.00,567.57 L506.50,568.47 L508.00,569.35 L509.50,570.22 L511.00,571.08 L512.50,571.91 L514.00,572.73 L515.50,573.54 L517.00,574.32 L518.50,575.09 L520.00,575.85 L521.50,576.58 L523.00,577.30 L524.50,578.00 L526.02,577.41 L527.53,576.79 L529.05,576.12 L530.57,575.42 L532.08,574.68 L533.60,573.90 L535.12,573.09 L536.63,572.24 L538.15,571.36 L539.66,570.44 L541.18,569.49 L542.70,568.51 L544.21,567.50 L545.73,566.45 L547.25,565.38 L548.76,564.27 L550.28,563.14 L551.80,561.97 L553.31,560.78 L554.83,559.57 L556.35,558.32 L557.86,557.05 L559.38,555.76 L560.90,554.44 L562.41,553.10 L563.93,551.74 L565.44,550.35 L566.96,548.94 L568.48,547.51 L569.99,546.07 L571.51,544.60 L573.03,543.11 L574.54,541.61 L576.06,540.08 L577.58,538.54 L579.09,536.99 L580.61,535.42 L582.13,533.84 L583.64,532.24 L585.16,530.63 L586.68,529.00 L588.19,527.37 L589.71,525.72 L591.22,524.06 L592.74,522.40 L594.26,520.72 L595.77,519.04 L597.29,517.34 L598.81,515.64 L600.32,513.94 L601.84,512.23 L603.36,510.51 L604.87,508.79 L606.39,507.07 L607.91,505.34 L609.42,503.62 L610.94,501.89 L612.46,500.15 L613.97,498.42 L615.49,496.69 L617.00,494.97 L618.52,493.24 L620.04,491.51 L621.55,489.79 L623.07,488.08 L624.59,486.37 L626.10,484.66 L627.62,482.96 L629.14,481.27 L630.65,479.58 L632.17,477.90 L633.69,476.23 L635.20,474.57 L636.72,472.92 L638.24,471.29 L639.75,469.66 L641.27,468.05 L642.78,466.44 L644.30,464.86 L645.82,463.28 L647.33,461.73 L648.85,460.18 L650.37,458.66 L651.88,457.15 L653.40,455.66" fill="none" stroke="#b05ea5" stroke-width="3.70" stroke-linejoin="round"/>
<path d="M397.00,488.15 L398.50,489.54 L400.00,490.92 L401.50,492.31 L403.00,493.71 L404.50,495.10 L406.00,496.49 L407.50,497.88 L409.00,499.27 L410.50,500.66 L412.00,502.05 L413.50,503.44 L415.00,504.83 L416.50,506.21 L418.00,507.60 L419.50,508.97 L421.00,510.35 L422.50,511.72 L424.00,513.09 L425.50,514.46 L427.00,515.82 L428.50,517.17 L430.00,518.52 L431.50,519.86 L433.00,521.20 L434.50,522.54 L436.00,523.86 L437.50,525.18 L439.00,526.49 L440.50,527.79 L442.00,529.09 L443.50,530.38 L445.00,531.65 L446.50,532.92 L448.00,534.18 L449.50,535.44 L451.00,536.68 L452.50,537.91 L454.00,539.12 L455.50,540.33 L457.00,541.53 L458.50,542.72 L460.00,543.89 L461.50,545.05 L463.00,546.20 L464.50,547.33 L466.00,548.45 L467.50,549.56 L469.00,550.65 L470.50,551.73 L472.00,552.79 L473.50,553.84 L475.00,554.88 L476.50,555.89 L478.00,556.89 L479.50,557.88 L481.00,558.85 L482.50,559.80 L484.00,560.73 L485.50,561.64 L487.00,562.54 L488.50,563.42 L490.00,564.28 L491.50,565.12 L493.00,565.94 L494.50,566.74 L496.00,567.51 L497.50,568.27 L499.00,569.01 L500.50,569.73 L502.00,570.42 L503.50,571.09 L505.00,571.74 L506.50,572.37 L508.00,572.98 L509.50,573.56 L511.00,574.11 L512.50,574.65 L514.00,575.15 L515.50,575.64 L517.00,576.10 L518.50,576.53 L520.00,576.94 L521.50,577.32 L523.00,577.67 L524.50,578.00 L526.02,577.55 L527.53,577.07 L529.05,576.56 L530.57,576.02 L532.08,575.45 L533.60,574.84 L535.12,574.21 L536.63,573.56 L538.15,572.87 L539.66,572.16 L541.18,571.41 L542.70,570.65 L544.21,569.85 L545.73,569.03 L547.25,568.19 L548.76,567.31 L550.28,566.42 L551.80,565.50 L553.31,564.55 L554.83,563.59 L556.35,562.60 L557.86,561.58 L559.38,560.55 L560.90,559.49 L562.41,558.41 L563.93,557.31 L565.44,556.19 L566.96,555.05 L568.48,553.89 L569.99,552.71 L571.51,551.51 L573.03,550.29 L574.54,549.06 L576.06,547.80 L577.58,546.53 L579.09,545.25 L580.61,543.94 L582.13,542.62 L583.64,541.29 L585.16,539.94 L586.68,538.57 L588.19,537.19 L589.71,535.80 L591.22,534.39 L592.74,532.97 L594.26,531.54 L595.77,530.09 L597.29,528.63 L598.81,527.16 L600.32,525.68 L601.84,524.19 L603.36,522.69 L604.87,521.18 L606.39,519.66 L607.91,518.13 L609.42,516.59 L610.94,515.05 L612.46,513.49 L613.97,511.93 L615.49,510.36 L617.00,508.79 L618.52,507.21 L620.04,505.62 L621.55,504.03 L623.07,502.43 L624.59,500.83 L626.10,499.23 L627.62,497.62 L629.14,496.00 L630.65,494.39 L632.17,492.77 L633.69,491.15 L635.20,489.53 L636.72,487.91 L638.24,486.29 L639.75,484.66 L641.27,483.04 L642.78,481.42 L644.30,479.80 L645.82,478.18 L647.33,476.56 L648.85,474.94 L650.37,473.33 L651.88,471.72 L653.40,470.11" fill="none" stroke="#ab3e30" stroke-width="3.70" stroke-linejoin="round"/>
<line x1="510" y1="331.50" x2="530" y2="331.50" stroke="#d34d39" stroke-width="2"/>
<text x="535.6" y="335.50" font-size="11.6"><tspan font-style="italic">T</tspan> = 4 K</text>
<line x1="510" y1="347.50" x2="530" y2="347.50" stroke="#449a6a" stroke-width="2"/>
<text x="535.6" y="351.50" font-size="11.6"><tspan font-style="italic">T</tspan> = 6 K</text>
<line x1="510" y1="363.50" x2="530" y2="363.50" stroke="#58b9bc" stroke-width="2"/>
<text x="535.6" y="367.50" font-size="11.6"><tspan font-style="italic">T</tspan> = 8 K</text>
<line x1="510" y1="379.50" x2="530" y2="379.50" stroke="#4d82ba" stroke-width="2"/>
<text x="535.6" y="383.50" font-size="11.6"><tspan font-style="italic">T</tspan> = 10 K</text>
<line x1="510" y1="395.50" x2="530" y2="395.50" stroke="#b05ea5" stroke-width="2"/>
<text x="535.6" y="399.50" font-size="11.6"><tspan font-style="italic">T</tspan> = 12 K</text>
<line x1="510" y1="411.50" x2="530" y2="411.50" stroke="#ab3e30" stroke-width="2"/>
<text x="535.6" y="415.50" font-size="11.6"><tspan font-style="italic">T</tspan> = 14 K</text>
<rect x="395.10" y="578.70" width="258.60" height="3" fill="#fff"/>
<line x1="394.50" y1="513.00" x2="397.70" y2="513.00" stroke="#231f20" stroke-width="1"/>
<line x1="394.50" y1="448.70" x2="397.70" y2="448.70" stroke="#231f20" stroke-width="1"/>
<line x1="394.50" y1="384.40" x2="397.70" y2="384.40" stroke="#231f20" stroke-width="1"/>
<line x1="459.90" y1="578.10" x2="459.90" y2="574.90" stroke="#231f20" stroke-width="1"/>
<line x1="524.40" y1="578.10" x2="524.40" y2="574.90" stroke="#231f20" stroke-width="1"/>
<line x1="588.50" y1="578.10" x2="588.50" y2="574.90" stroke="#231f20" stroke-width="1"/>
<path d="M394.50,319.00 H654.40 V578.10" fill="none" stroke="#808385" stroke-width="1.4"/>
<path d="M394.50,319.00 V578.10 H654.40" fill="none" stroke="#231f20" stroke-width="1.2"/>
</svg>
</body></html>
